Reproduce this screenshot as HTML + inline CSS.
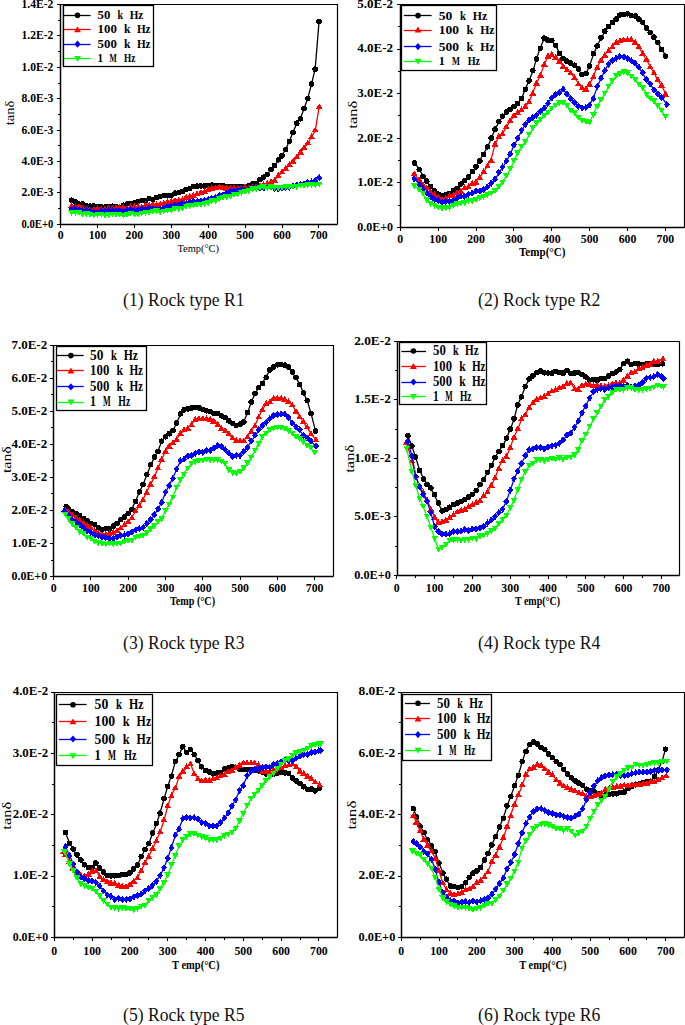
<!DOCTYPE html>
<html><head><meta charset="utf-8"><style>
html,body{margin:0;padding:0;background:#fff;}
body{width:685px;height:1025px;overflow:hidden;}
svg{display:block;}
text{font-family:"Liberation Serif",serif;}
.tl{font-weight:bold;font-size:12px;fill:#000;}
.xl{font-family:"Liberation Serif",serif;fill:#000;font-weight:bold;}
.yl{font-size:12.5px;fill:#000;}
.lg{font-weight:bold;fill:#000;}
.cap{font-size:18.2px;fill:#111;}
</style></head><body>
<svg width="685" height="1025" viewBox="0 0 685 1025">
<rect width="685" height="1025" fill="#fff"/>
<clipPath id="c1"><rect x="60.6" y="4.5" width="276.7" height="219.9"/></clipPath>
<g clip-path="url(#c1)">
<polyline points="71.6,200.5 75.4,202.6 79.0,203.7 82.7,204.8 86.4,205.9 90.1,206.3 93.8,206.7 97.5,207.1 101.2,207.4 104.9,207.2 108.6,207.1 112.3,207.0 116.0,206.8 119.6,206.7 123.3,205.9 127.0,204.5 130.7,203.2 134.4,202.3 138.1,201.6 141.8,200.8 145.5,200.1 149.2,199.4 152.8,198.6 156.5,197.9 160.2,197.1 163.9,196.4 167.6,195.7 171.3,194.9 175.0,193.8 178.7,192.5 182.4,191.2 186.1,189.9 189.8,188.7 193.4,187.5 197.1,186.9 200.8,186.4 204.5,185.8 208.2,185.4 211.9,185.5 215.6,185.6 219.3,185.7 223.0,185.9 226.7,186.2 230.3,186.5 234.0,186.8 237.7,186.7 241.4,186.4 245.1,186.1 248.8,185.5 252.5,184.2 256.2,182.8 259.9,180.1 263.6,177.3 267.2,173.9 270.9,170.1 274.6,165.4 278.3,160.6 282.0,155.5 285.7,149.0 289.4,141.2 293.1,131.8 296.8,123.5 300.4,118.5 304.1,108.5 307.8,98.2 311.5,84.2 315.2,68.6 319.1,20.9" fill="none" stroke="#000000" stroke-width="1.3" stroke-linejoin="round"/>
<g fill="#000000" shape-rendering="crispEdges"><circle cx="71.6" cy="200.2" r="2.80"/><circle cx="75.4" cy="202.0" r="2.80"/><circle cx="79.0" cy="204.0" r="2.80"/><circle cx="82.7" cy="204.1" r="2.80"/><circle cx="86.4" cy="206.0" r="2.80"/><circle cx="90.1" cy="206.1" r="2.80"/><circle cx="93.8" cy="205.9" r="2.80"/><circle cx="97.5" cy="207.1" r="2.80"/><circle cx="101.2" cy="206.6" r="2.80"/><circle cx="104.9" cy="207.1" r="2.80"/><circle cx="108.6" cy="206.3" r="2.80"/><circle cx="112.3" cy="206.2" r="2.80"/><circle cx="116.0" cy="206.7" r="2.80"/><circle cx="119.6" cy="207.3" r="2.80"/><circle cx="123.3" cy="205.2" r="2.80"/><circle cx="127.0" cy="204.0" r="2.80"/><circle cx="130.7" cy="203.4" r="2.80"/><circle cx="134.4" cy="203.1" r="2.80"/><circle cx="138.1" cy="201.7" r="2.80"/><circle cx="141.8" cy="200.7" r="2.80"/><circle cx="145.5" cy="201.0" r="2.80"/><circle cx="149.2" cy="198.6" r="2.80"/><circle cx="152.8" cy="199.3" r="2.80"/><circle cx="156.5" cy="197.5" r="2.80"/><circle cx="160.2" cy="196.5" r="2.80"/><circle cx="163.9" cy="195.7" r="2.80"/><circle cx="167.6" cy="195.3" r="2.80"/><circle cx="171.3" cy="195.5" r="2.80"/><circle cx="175.0" cy="193.2" r="2.80"/><circle cx="178.7" cy="192.7" r="2.80"/><circle cx="182.4" cy="191.5" r="2.80"/><circle cx="186.1" cy="189.7" r="2.80"/><circle cx="189.8" cy="188.7" r="2.80"/><circle cx="193.4" cy="186.7" r="2.80"/><circle cx="197.1" cy="186.2" r="2.80"/><circle cx="200.8" cy="185.9" r="2.80"/><circle cx="204.5" cy="186.1" r="2.80"/><circle cx="208.2" cy="185.3" r="2.80"/><circle cx="211.9" cy="185.2" r="2.80"/><circle cx="215.6" cy="185.8" r="2.80"/><circle cx="219.3" cy="185.7" r="2.80"/><circle cx="223.0" cy="185.5" r="2.80"/><circle cx="226.7" cy="186.7" r="2.80"/><circle cx="230.3" cy="186.8" r="2.80"/><circle cx="234.0" cy="186.3" r="2.80"/><circle cx="237.7" cy="186.9" r="2.80"/><circle cx="241.4" cy="186.4" r="2.80"/><circle cx="245.1" cy="186.7" r="2.80"/><circle cx="248.8" cy="186.0" r="2.80"/><circle cx="252.5" cy="183.8" r="2.80"/><circle cx="256.2" cy="183.7" r="2.80"/><circle cx="259.9" cy="179.4" r="2.80"/><circle cx="263.6" cy="177.2" r="2.80"/><circle cx="267.2" cy="174.3" r="2.80"/><circle cx="270.9" cy="169.5" r="2.80"/><circle cx="274.6" cy="165.3" r="2.80"/><circle cx="278.3" cy="159.8" r="2.80"/><circle cx="282.0" cy="155.8" r="2.80"/><circle cx="285.7" cy="149.5" r="2.80"/><circle cx="289.4" cy="141.3" r="2.80"/><circle cx="293.1" cy="132.5" r="2.80"/><circle cx="296.8" cy="123.2" r="2.80"/><circle cx="300.4" cy="118.8" r="2.80"/><circle cx="304.1" cy="108.7" r="2.80"/><circle cx="307.8" cy="98.4" r="2.80"/><circle cx="311.5" cy="84.1" r="2.80"/><circle cx="315.2" cy="69.2" r="2.80"/><circle cx="319.1" cy="21.7" r="2.80"/></g>
<polyline points="71.6,205.4 75.4,206.2 79.0,207.0 82.7,207.8 86.4,208.6 90.1,208.7 93.8,208.8 97.5,208.9 101.2,209.0 104.9,208.8 108.6,208.7 112.3,208.6 116.0,208.4 119.6,208.3 123.3,208.0 127.0,207.6 130.7,207.2 134.4,206.8 138.1,206.4 141.8,206.0 145.5,205.4 149.2,204.9 152.8,204.3 156.5,203.8 160.2,203.2 163.9,202.6 167.6,201.8 171.3,201.1 175.0,200.3 178.7,199.6 182.4,198.8 186.1,197.7 189.8,196.6 193.4,195.5 197.1,194.1 200.8,192.6 204.5,191.1 208.2,189.8 211.9,188.8 215.6,187.9 219.3,187.0 223.0,187.1 226.7,187.3 230.3,187.5 234.0,187.8 237.7,187.8 241.4,187.7 245.1,187.6 248.8,187.4 252.5,186.7 256.2,186.0 259.9,185.3 263.6,184.5 267.2,183.3 270.9,182.2 274.6,179.8 278.3,176.1 282.0,172.4 285.7,168.7 289.4,165.0 293.1,161.3 296.8,157.6 300.4,152.8 304.1,148.0 307.8,143.6 311.5,136.7 315.2,130.8 319.3,106.1" fill="none" stroke="#ff0000" stroke-width="1.3" stroke-linejoin="round"/>
<g fill="#ff0000" shape-rendering="crispEdges"><path d="M71.6 202.0L75.0 207.9L68.2 207.9Z"/><path d="M75.4 203.1L78.8 209.0L72.0 209.0Z"/><path d="M79.0 202.8L82.5 208.7L75.6 208.7Z"/><path d="M82.7 204.7L86.1 210.7L79.3 210.7Z"/><path d="M86.4 205.4L89.8 211.4L83.0 211.4Z"/><path d="M90.1 206.2L93.5 212.1L86.7 212.1Z"/><path d="M93.8 206.0L97.2 211.9L90.4 211.9Z"/><path d="M97.5 205.1L100.9 211.1L94.1 211.1Z"/><path d="M101.2 205.4L104.6 211.3L97.8 211.3Z"/><path d="M104.9 205.7L108.3 211.7L101.5 211.7Z"/><path d="M108.6 204.4L112.0 210.4L105.2 210.4Z"/><path d="M112.3 205.1L115.7 211.0L108.9 211.0Z"/><path d="M116.0 204.4L119.4 210.4L112.5 210.4Z"/><path d="M119.6 204.2L123.0 210.1L116.2 210.1Z"/><path d="M123.3 203.8L126.7 209.7L119.9 209.7Z"/><path d="M127.0 204.7L130.4 210.6L123.6 210.6Z"/><path d="M130.7 203.1L134.1 209.1L127.3 209.1Z"/><path d="M134.4 202.9L137.8 208.9L131.0 208.9Z"/><path d="M138.1 202.8L141.5 208.7L134.7 208.7Z"/><path d="M141.8 203.3L145.2 209.2L138.4 209.2Z"/><path d="M145.5 201.3L148.9 207.2L142.1 207.2Z"/><path d="M149.2 201.4L152.6 207.3L145.8 207.3Z"/><path d="M152.8 201.0L156.2 207.0L149.4 207.0Z"/><path d="M156.5 201.0L159.9 207.0L153.1 207.0Z"/><path d="M160.2 200.4L163.6 206.3L156.8 206.3Z"/><path d="M163.9 199.8L167.3 205.8L160.5 205.8Z"/><path d="M167.6 198.0L171.0 204.0L164.2 204.0Z"/><path d="M171.3 197.5L174.7 203.5L167.9 203.5Z"/><path d="M175.0 196.7L178.4 202.6L171.6 202.6Z"/><path d="M178.7 196.9L182.1 202.8L175.3 202.8Z"/><path d="M182.4 196.3L185.8 202.2L179.0 202.2Z"/><path d="M186.1 193.7L189.5 199.7L182.7 199.7Z"/><path d="M189.8 192.6L193.2 198.6L186.3 198.6Z"/><path d="M193.4 191.6L196.8 197.5L190.0 197.5Z"/><path d="M197.1 190.3L200.5 196.2L193.7 196.2Z"/><path d="M200.8 189.2L204.2 195.2L197.4 195.2Z"/><path d="M204.5 187.9L207.9 193.8L201.1 193.8Z"/><path d="M208.2 185.9L211.6 191.9L204.8 191.9Z"/><path d="M211.9 184.5L215.3 190.5L208.5 190.5Z"/><path d="M215.6 184.4L219.0 190.3L212.2 190.3Z"/><path d="M219.3 183.3L222.7 189.3L215.9 189.3Z"/><path d="M223.0 183.8L226.4 189.8L219.6 189.8Z"/><path d="M226.7 184.7L230.1 190.7L223.2 190.7Z"/><path d="M230.3 184.5L233.7 190.4L226.9 190.4Z"/><path d="M234.0 184.4L237.4 190.4L230.6 190.4Z"/><path d="M237.7 184.7L241.1 190.6L234.3 190.6Z"/><path d="M241.4 184.6L244.8 190.6L238.0 190.6Z"/><path d="M245.1 183.4L248.5 189.3L241.7 189.3Z"/><path d="M248.8 184.7L252.2 190.6L245.4 190.6Z"/><path d="M252.5 183.8L255.9 189.7L249.1 189.7Z"/><path d="M256.2 183.3L259.6 189.2L252.8 189.2Z"/><path d="M259.9 182.4L263.3 188.4L256.5 188.4Z"/><path d="M263.6 180.9L266.9 186.8L260.2 186.8Z"/><path d="M267.2 179.8L270.6 185.7L263.8 185.7Z"/><path d="M270.9 178.1L274.3 184.1L267.5 184.1Z"/><path d="M274.6 176.6L278.0 182.6L271.2 182.6Z"/><path d="M278.3 171.9L281.7 177.9L274.9 177.9Z"/><path d="M282.0 168.2L285.4 174.2L278.6 174.2Z"/><path d="M285.7 164.8L289.1 170.7L282.3 170.7Z"/><path d="M289.4 161.0L292.8 167.0L286.0 167.0Z"/><path d="M293.1 157.6L296.5 163.6L289.7 163.6Z"/><path d="M296.8 153.4L300.2 159.4L293.4 159.4Z"/><path d="M300.4 148.5L303.8 154.5L297.1 154.5Z"/><path d="M304.1 144.0L307.5 149.9L300.7 149.9Z"/><path d="M307.8 139.5L311.2 145.4L304.4 145.4Z"/><path d="M311.5 133.0L314.9 139.0L308.1 139.0Z"/><path d="M315.2 126.5L318.6 132.4L311.8 132.4Z"/><path d="M319.3 103.4L322.7 109.3L315.9 109.3Z"/></g>
<polyline points="71.6,209.0 75.4,209.5 79.0,210.0 82.7,210.6 86.4,211.1 90.1,211.1 93.8,211.1 97.5,211.1 101.2,211.1 104.9,211.1 108.6,211.1 112.3,211.1 116.0,211.1 119.6,211.1 123.3,210.9 127.0,210.7 130.7,210.4 134.4,210.1 138.1,209.8 141.8,209.5 145.5,209.3 149.2,209.0 152.8,208.7 156.5,208.4 160.2,208.1 163.9,207.6 167.6,206.9 171.3,206.1 175.0,205.3 178.7,204.6 182.4,203.8 186.1,203.1 189.8,202.3 193.4,201.5 197.1,200.8 200.8,200.2 204.5,199.6 208.2,198.8 211.9,197.8 215.6,196.7 219.3,195.7 223.0,194.6 226.7,193.6 230.3,192.5 234.0,191.4 237.7,190.6 241.4,190.0 245.1,189.4 248.8,188.8 252.5,188.2 256.2,187.6 259.9,187.0 263.6,187.2 267.2,187.5 270.9,187.8 274.6,188.9 278.3,189.4 282.0,188.4 285.7,187.3 289.4,186.4 293.1,185.7 296.8,184.9 300.4,184.3 304.1,183.7 307.8,183.1 311.5,181.7 315.2,179.9 319.3,177.3" fill="none" stroke="#0000ff" stroke-width="1.3" stroke-linejoin="round"/>
<g fill="#0000ff" shape-rendering="crispEdges"><path d="M71.6 205.6L74.7 209.2L71.6 212.8L68.5 209.2Z"/><path d="M75.4 205.3L78.4 208.9L75.4 212.5L72.3 208.9Z"/><path d="M79.0 206.0L82.1 209.6L79.0 213.2L76.0 209.6Z"/><path d="M82.7 206.7L85.8 210.3L82.7 213.9L79.7 210.3Z"/><path d="M86.4 207.2L89.5 210.8L86.4 214.4L83.4 210.8Z"/><path d="M90.1 206.8L93.2 210.4L90.1 214.0L87.1 210.4Z"/><path d="M93.8 208.1L96.9 211.7L93.8 215.3L90.8 211.7Z"/><path d="M97.5 208.4L100.6 212.0L97.5 215.6L94.4 212.0Z"/><path d="M101.2 207.4L104.2 211.0L101.2 214.6L98.1 211.0Z"/><path d="M104.9 207.5L107.9 211.1L104.9 214.7L101.8 211.1Z"/><path d="M108.6 206.8L111.6 210.4L108.6 214.0L105.5 210.4Z"/><path d="M112.3 206.8L115.3 210.4L112.3 214.0L109.2 210.4Z"/><path d="M116.0 207.2L119.0 210.8L116.0 214.4L112.9 210.8Z"/><path d="M119.6 207.1L122.7 210.7L119.6 214.3L116.6 210.7Z"/><path d="M123.3 207.9L126.4 211.5L123.3 215.1L120.3 211.5Z"/><path d="M127.0 206.5L130.1 210.1L127.0 213.7L124.0 210.1Z"/><path d="M130.7 205.9L133.8 209.5L130.7 213.1L127.7 209.5Z"/><path d="M134.4 207.3L137.5 210.9L134.4 214.5L131.3 210.9Z"/><path d="M138.1 206.3L141.2 209.9L138.1 213.5L135.0 209.9Z"/><path d="M141.8 205.3L144.8 208.9L141.8 212.5L138.7 208.9Z"/><path d="M145.5 205.7L148.5 209.3L145.5 212.9L142.4 209.3Z"/><path d="M149.2 204.5L152.2 208.1L149.2 211.7L146.1 208.1Z"/><path d="M152.8 205.2L155.9 208.8L152.8 212.4L149.8 208.8Z"/><path d="M156.5 205.7L159.6 209.3L156.5 212.9L153.5 209.3Z"/><path d="M160.2 205.2L163.3 208.8L160.2 212.4L157.2 208.8Z"/><path d="M163.9 204.4L167.0 208.0L163.9 211.6L160.9 208.0Z"/><path d="M167.6 202.8L170.7 206.4L167.6 210.0L164.6 206.4Z"/><path d="M171.3 202.3L174.4 205.9L171.3 209.5L168.2 205.9Z"/><path d="M175.0 201.1L178.1 204.7L175.0 208.3L171.9 204.7Z"/><path d="M178.7 201.5L181.7 205.1L178.7 208.7L175.6 205.1Z"/><path d="M182.4 200.3L185.4 203.9L182.4 207.5L179.3 203.9Z"/><path d="M186.1 200.0L189.1 203.6L186.1 207.2L183.0 203.6Z"/><path d="M189.8 198.4L192.8 202.0L189.8 205.6L186.7 202.0Z"/><path d="M193.4 197.4L196.5 201.0L193.4 204.6L190.4 201.0Z"/><path d="M197.1 197.8L200.2 201.4L197.1 205.0L194.1 201.4Z"/><path d="M200.8 197.5L203.9 201.1L200.8 204.7L197.8 201.1Z"/><path d="M204.5 196.6L207.6 200.2L204.5 203.8L201.4 200.2Z"/><path d="M208.2 195.8L211.3 199.4L208.2 203.0L205.1 199.4Z"/><path d="M211.9 194.8L214.9 198.4L211.9 202.0L208.8 198.4Z"/><path d="M215.6 193.6L218.6 197.2L215.6 200.8L212.5 197.2Z"/><path d="M219.3 191.6L222.3 195.2L219.3 198.8L216.2 195.2Z"/><path d="M223.0 191.0L226.0 194.6L223.0 198.2L219.9 194.6Z"/><path d="M226.7 189.7L229.7 193.3L226.7 196.9L223.6 193.3Z"/><path d="M230.3 188.0L233.4 191.6L230.3 195.2L227.3 191.6Z"/><path d="M234.0 187.0L237.1 190.6L234.0 194.2L231.0 190.6Z"/><path d="M237.7 186.6L240.8 190.2L237.7 193.8L234.7 190.2Z"/><path d="M241.4 186.0L244.5 189.6L241.4 193.2L238.3 189.6Z"/><path d="M245.1 186.1L248.2 189.7L245.1 193.3L242.0 189.7Z"/><path d="M248.8 186.0L251.8 189.6L248.8 193.2L245.7 189.6Z"/><path d="M252.5 184.5L255.5 188.1L252.5 191.7L249.4 188.1Z"/><path d="M256.2 184.8L259.2 188.4L256.2 192.0L253.1 188.4Z"/><path d="M259.9 184.3L262.9 187.9L259.9 191.5L256.8 187.9Z"/><path d="M263.6 184.4L266.6 188.0L263.6 191.6L260.5 188.0Z"/><path d="M267.2 183.6L270.3 187.2L267.2 190.8L264.2 187.2Z"/><path d="M270.9 183.7L274.0 187.3L270.9 190.9L267.9 187.3Z"/><path d="M274.6 184.8L277.7 188.4L274.6 192.0L271.6 188.4Z"/><path d="M278.3 185.3L281.4 188.9L278.3 192.5L275.2 188.9Z"/><path d="M282.0 184.2L285.1 187.8L282.0 191.4L278.9 187.8Z"/><path d="M285.7 183.9L288.8 187.5L285.7 191.1L282.6 187.5Z"/><path d="M289.4 183.5L292.4 187.1L289.4 190.7L286.3 187.1Z"/><path d="M293.1 182.7L296.1 186.3L293.1 189.9L290.0 186.3Z"/><path d="M296.8 181.3L299.8 184.9L296.8 188.5L293.7 184.9Z"/><path d="M300.4 180.9L303.5 184.5L300.4 188.1L297.4 184.5Z"/><path d="M304.1 180.6L307.2 184.2L304.1 187.8L301.1 184.2Z"/><path d="M307.8 178.7L310.9 182.3L307.8 185.9L304.8 182.3Z"/><path d="M311.5 178.4L314.6 182.0L311.5 185.6L308.5 182.0Z"/><path d="M315.2 177.0L318.3 180.6L315.2 184.2L312.1 180.6Z"/><path d="M319.3 174.2L322.4 177.8L319.3 181.4L316.2 177.8Z"/></g>
<polyline points="71.6,212.1 75.4,212.6 79.0,213.1 82.7,213.7 86.4,214.2 90.1,214.3 93.8,214.3 97.5,214.4 101.2,214.5 104.9,214.5 108.6,214.6 112.3,214.6 116.0,214.7 119.6,214.8 123.3,214.6 127.0,214.3 130.7,213.9 134.4,213.6 138.1,213.3 141.8,212.9 145.5,212.6 149.2,212.3 152.8,211.9 156.5,211.6 160.2,211.3 163.9,210.8 167.6,210.1 171.3,209.5 175.0,208.8 178.7,208.2 182.4,207.5 186.1,206.9 189.8,206.2 193.4,205.6 197.1,204.9 200.8,204.3 204.5,203.7 208.2,202.9 211.9,201.6 215.6,200.2 219.3,198.9 223.0,197.7 226.7,196.7 230.3,195.6 234.0,194.5 237.7,193.5 241.4,192.6 245.1,191.7 248.8,190.7 252.5,189.8 256.2,188.9 259.9,188.0 263.6,187.8 267.2,187.7 270.9,187.6 274.6,187.4 278.3,187.3 282.0,187.1 285.7,187.0 289.4,186.7 293.1,186.4 296.8,186.1 300.4,185.9 304.1,185.5 307.8,185.2 311.5,184.9 315.2,184.6 319.3,184.2" fill="none" stroke="#00ff00" stroke-width="1.3" stroke-linejoin="round"/>
<g fill="#00ff00" shape-rendering="crispEdges"><path d="M71.6 216.0L75.0 210.0L68.2 210.0Z"/><path d="M75.4 216.0L78.8 210.0L72.0 210.0Z"/><path d="M79.0 216.0L82.5 210.0L75.6 210.0Z"/><path d="M82.7 217.6L86.1 211.6L79.3 211.6Z"/><path d="M86.4 217.3L89.8 211.3L83.0 211.3Z"/><path d="M90.1 218.2L93.5 212.3L86.7 212.3Z"/><path d="M93.8 218.6L97.2 212.6L90.4 212.6Z"/><path d="M97.5 217.6L100.9 211.7L94.1 211.7Z"/><path d="M101.2 217.7L104.6 211.7L97.8 211.7Z"/><path d="M104.9 218.7L108.3 212.8L101.5 212.8Z"/><path d="M108.6 218.4L112.0 212.4L105.2 212.4Z"/><path d="M112.3 217.4L115.7 211.5L108.9 211.5Z"/><path d="M116.0 217.4L119.4 211.5L112.5 211.5Z"/><path d="M119.6 217.5L123.0 211.6L116.2 211.6Z"/><path d="M123.3 218.7L126.7 212.8L119.9 212.8Z"/><path d="M127.0 218.2L130.4 212.3L123.6 212.3Z"/><path d="M130.7 216.7L134.1 210.8L127.3 210.8Z"/><path d="M134.4 217.6L137.8 211.7L131.0 211.7Z"/><path d="M138.1 217.5L141.5 211.6L134.7 211.6Z"/><path d="M141.8 216.6L145.2 210.7L138.4 210.7Z"/><path d="M145.5 215.7L148.9 209.8L142.1 209.8Z"/><path d="M149.2 215.8L152.6 209.8L145.8 209.8Z"/><path d="M152.8 214.7L156.2 208.7L149.4 208.7Z"/><path d="M156.5 214.1L159.9 208.2L153.1 208.2Z"/><path d="M160.2 215.5L163.6 209.6L156.8 209.6Z"/><path d="M163.9 214.5L167.3 208.5L160.5 208.5Z"/><path d="M167.6 213.6L171.0 207.6L164.2 207.6Z"/><path d="M171.3 213.7L174.7 207.7L167.9 207.7Z"/><path d="M175.0 212.1L178.4 206.2L171.6 206.2Z"/><path d="M178.7 212.3L182.1 206.3L175.3 206.3Z"/><path d="M182.4 211.5L185.8 205.6L179.0 205.6Z"/><path d="M186.1 209.8L189.5 203.8L182.7 203.8Z"/><path d="M189.8 209.2L193.2 203.2L186.3 203.2Z"/><path d="M193.4 208.6L196.8 202.7L190.0 202.7Z"/><path d="M197.1 207.9L200.5 201.9L193.7 201.9Z"/><path d="M200.8 207.9L204.2 201.9L197.4 201.9Z"/><path d="M204.5 206.6L207.9 200.7L201.1 200.7Z"/><path d="M208.2 206.1L211.6 200.2L204.8 200.2Z"/><path d="M211.9 204.3L215.3 198.3L208.5 198.3Z"/><path d="M215.6 204.4L219.0 198.4L212.2 198.4Z"/><path d="M219.3 202.1L222.7 196.1L215.9 196.1Z"/><path d="M223.0 201.0L226.4 195.1L219.6 195.1Z"/><path d="M226.7 200.2L230.1 194.3L223.2 194.3Z"/><path d="M230.3 199.7L233.7 193.8L226.9 193.8Z"/><path d="M234.0 197.8L237.4 191.8L230.6 191.8Z"/><path d="M237.7 197.7L241.1 191.7L234.3 191.7Z"/><path d="M241.4 196.0L244.8 190.1L238.0 190.1Z"/><path d="M245.1 195.1L248.5 189.2L241.7 189.2Z"/><path d="M248.8 194.2L252.2 188.2L245.4 188.2Z"/><path d="M252.5 192.4L255.9 186.4L249.1 186.4Z"/><path d="M256.2 192.2L259.6 186.3L252.8 186.3Z"/><path d="M259.9 190.9L263.3 184.9L256.5 184.9Z"/><path d="M263.6 190.3L266.9 184.4L260.2 184.4Z"/><path d="M267.2 191.6L270.6 185.7L263.8 185.7Z"/><path d="M270.9 190.4L274.3 184.4L267.5 184.4Z"/><path d="M274.6 190.8L278.0 184.8L271.2 184.8Z"/><path d="M278.3 191.1L281.7 185.1L274.9 185.1Z"/><path d="M282.0 190.6L285.4 184.7L278.6 184.7Z"/><path d="M285.7 190.0L289.1 184.1L282.3 184.1Z"/><path d="M289.4 190.1L292.8 184.2L286.0 184.2Z"/><path d="M293.1 189.9L296.5 184.0L289.7 184.0Z"/><path d="M296.8 190.1L300.2 184.1L293.4 184.1Z"/><path d="M300.4 188.6L303.8 182.6L297.1 182.6Z"/><path d="M304.1 189.1L307.5 183.1L300.7 183.1Z"/><path d="M307.8 188.2L311.2 182.2L304.4 182.2Z"/><path d="M311.5 187.9L314.9 181.9L308.1 181.9Z"/><path d="M315.2 188.5L318.6 182.5L311.8 182.5Z"/><path d="M319.3 187.6L322.7 181.7L315.9 181.7Z"/></g>
</g>
<path d="M60.5 4.5H337.5V224.5" fill="none" stroke="#000" stroke-width="1.2"/>
<path d="M60.5 4.0V224.5H337.5" fill="none" stroke="#000" stroke-width="1.5"/>
<path d="M57.0 224.5H60.5 M58.0 208.5H60.5 M57.0 192.5H60.5 M58.0 177.5H60.5 M57.0 161.5H60.5 M58.0 145.5H60.5 M57.0 130.5H60.5 M58.0 114.5H60.5 M57.0 98.5H60.5 M58.0 83.5H60.5 M57.0 67.5H60.5 M58.0 51.5H60.5 M57.0 35.5H60.5 M58.0 20.5H60.5 M57.0 4.5H60.5 M60.5 224.5V228.0 M97.5 224.5V228.0 M134.5 224.5V228.0 M171.5 224.5V228.0 M208.5 224.5V228.0 M245.5 224.5V228.0 M282.5 224.5V228.0 M318.5 224.5V228.0" stroke="#000" stroke-width="1.1" fill="none"/>
<text x="21.5" y="227.7" textLength="31.9" lengthAdjust="spacingAndGlyphs" class="tl">0.0E+0</text>
<text x="21.5" y="196.3" textLength="31.9" lengthAdjust="spacingAndGlyphs" class="tl">2.0E-3</text>
<text x="21.5" y="164.9" textLength="31.9" lengthAdjust="spacingAndGlyphs" class="tl">4.0E-3</text>
<text x="21.5" y="133.5" textLength="31.9" lengthAdjust="spacingAndGlyphs" class="tl">6.0E-3</text>
<text x="21.5" y="102.0" textLength="31.9" lengthAdjust="spacingAndGlyphs" class="tl">8.0E-3</text>
<text x="21.5" y="70.6" textLength="31.9" lengthAdjust="spacingAndGlyphs" class="tl">1.0E-2</text>
<text x="21.5" y="39.2" textLength="31.9" lengthAdjust="spacingAndGlyphs" class="tl">1.2E-2</text>
<text x="21.5" y="7.8" textLength="31.9" lengthAdjust="spacingAndGlyphs" class="tl">1.4E-2</text>
<text x="60.6" y="239.3" text-anchor="middle" class="tl" textLength="5.9" lengthAdjust="spacingAndGlyphs">0</text>
<text x="97.5" y="239.3" text-anchor="middle" class="tl" textLength="17.7" lengthAdjust="spacingAndGlyphs">100</text>
<text x="134.4" y="239.3" text-anchor="middle" class="tl" textLength="17.7" lengthAdjust="spacingAndGlyphs">200</text>
<text x="171.3" y="239.3" text-anchor="middle" class="tl" textLength="17.7" lengthAdjust="spacingAndGlyphs">300</text>
<text x="208.2" y="239.3" text-anchor="middle" class="tl" textLength="17.7" lengthAdjust="spacingAndGlyphs">400</text>
<text x="245.1" y="239.3" text-anchor="middle" class="tl" textLength="17.7" lengthAdjust="spacingAndGlyphs">500</text>
<text x="282.0" y="239.3" text-anchor="middle" class="tl" textLength="17.7" lengthAdjust="spacingAndGlyphs">600</text>
<text x="318.9" y="239.3" text-anchor="middle" class="tl" textLength="17.7" lengthAdjust="spacingAndGlyphs">700</text>
<text x="177.5" y="251.6" textLength="41.5" lengthAdjust="spacingAndGlyphs" class="xl" style="font-size:9.5px;font-weight:normal">Temp(°C)</text>
<text transform="translate(14.0,113.0) rotate(-90)" text-anchor="middle" class="yl" textLength="24.5" lengthAdjust="spacingAndGlyphs">tanδ</text>
<rect x="61" y="5.5" width="2" height="61.0" fill="#c8c8c8"/>
<rect x="63.5" y="5.5" width="90.0" height="61.0" fill="#fff" stroke="#000" stroke-width="1.3"/>
<path d="M63.8 15.5H90.6" stroke="#000000" stroke-width="1.3"/>
<g fill="#000000"><circle cx="77.5" cy="15.3" r="2.80"/></g>
<text x="97.6" y="18.9" textLength="12.8" lengthAdjust="spacingAndGlyphs" class="lg" style="font-size:11.55px">50</text>
<text x="117.6" y="18.9" textLength="5.6" lengthAdjust="spacingAndGlyphs" class="lg" style="font-size:11.55px">k</text>
<text x="129.7" y="18.9" textLength="13.6" lengthAdjust="spacingAndGlyphs" class="lg" style="font-size:11.55px">Hz</text>
<path d="M63.8 29.5H90.6" stroke="#ff0000" stroke-width="1.3"/>
<g fill="#ff0000"><path d="M77.5 26.3L80.9 32.2L74.1 32.2Z"/></g>
<text x="97.6" y="33.3" textLength="19.2" lengthAdjust="spacingAndGlyphs" class="lg" style="font-size:11.55px">100</text>
<text x="124.0" y="33.3" textLength="6.5" lengthAdjust="spacingAndGlyphs" class="lg" style="font-size:11.55px">k</text>
<text x="136.9" y="33.3" textLength="13.7" lengthAdjust="spacingAndGlyphs" class="lg" style="font-size:11.55px">Hz</text>
<path d="M63.8 44.5H90.6" stroke="#0000ff" stroke-width="1.3"/>
<g fill="#0000ff"><path d="M77.5 40.6L80.6 44.2L77.5 47.8L74.4 44.2Z"/></g>
<text x="97.6" y="47.8" textLength="19.2" lengthAdjust="spacingAndGlyphs" class="lg" style="font-size:11.55px">500</text>
<text x="124.0" y="47.8" textLength="6.5" lengthAdjust="spacingAndGlyphs" class="lg" style="font-size:11.55px">k</text>
<text x="136.9" y="47.8" textLength="13.7" lengthAdjust="spacingAndGlyphs" class="lg" style="font-size:11.55px">Hz</text>
<path d="M63.8 58.5H90.6" stroke="#00ff00" stroke-width="1.3"/>
<g fill="#00ff00"><path d="M77.5 62.0L80.9 56.1L74.1 56.1Z"/></g>
<text x="97.6" y="62.2" textLength="5.6" lengthAdjust="spacingAndGlyphs" class="lg" style="font-size:11.55px">1</text>
<text x="109.6" y="62.2" textLength="7.2" lengthAdjust="spacingAndGlyphs" class="lg" style="font-size:11.55px">M</text>
<text x="124.0" y="62.2" textLength="11.3" lengthAdjust="spacingAndGlyphs" class="lg" style="font-size:11.55px">Hz</text>
<text x="123.1" y="305.5" textLength="121.4" lengthAdjust="spacingAndGlyphs" class="cap">(1) Rock type R1</text>
<clipPath id="c2"><rect x="400.5" y="4.4" width="283.6" height="223.1"/></clipPath>
<g clip-path="url(#c2)">
<polyline points="414.7,162.9 419.2,169.3 423.0,175.7 426.8,181.3 430.6,186.3 434.4,190.7 438.2,194.0 442.0,195.3 445.7,194.7 449.5,193.2 453.3,190.3 457.1,187.5 460.9,183.8 464.7,180.0 468.5,176.2 472.3,172.1 476.0,166.8 479.8,160.2 483.6,153.7 487.4,147.4 491.2,138.7 495.0,129.3 498.8,122.4 502.5,116.7 506.3,112.9 510.1,109.4 513.9,106.1 517.7,102.7 521.5,99.0 525.3,89.0 529.1,80.5 532.8,71.4 536.6,58.4 540.4,47.5 544.2,38.7 548.0,39.4 551.8,40.9 555.6,45.4 559.4,52.7 563.1,57.8 566.9,61.6 570.7,63.2 574.5,65.2 578.3,69.4 582.1,75.1 585.9,74.0 589.6,65.6 593.4,54.6 597.2,45.8 601.0,38.0 604.8,32.1 608.6,26.8 612.4,22.4 616.2,18.9 619.9,15.9 623.7,13.6 627.5,13.2 631.3,14.6 635.1,16.7 638.9,19.4 642.7,23.2 646.5,27.5 650.2,32.7 654.0,37.8 657.8,42.8 661.6,48.8 665.5,55.6" fill="none" stroke="#000000" stroke-width="1.3" stroke-linejoin="round"/>
<g fill="#000000" shape-rendering="crispEdges"><circle cx="414.7" cy="163.0" r="2.80"/><circle cx="419.2" cy="169.7" r="2.80"/><circle cx="423.0" cy="176.4" r="2.80"/><circle cx="426.8" cy="181.2" r="2.80"/><circle cx="430.6" cy="186.5" r="2.80"/><circle cx="434.4" cy="190.8" r="2.80"/><circle cx="438.2" cy="194.1" r="2.80"/><circle cx="442.0" cy="195.6" r="2.80"/><circle cx="445.7" cy="194.6" r="2.80"/><circle cx="449.5" cy="193.3" r="2.80"/><circle cx="453.3" cy="190.3" r="2.80"/><circle cx="457.1" cy="188.3" r="2.80"/><circle cx="460.9" cy="184.1" r="2.80"/><circle cx="464.7" cy="180.7" r="2.80"/><circle cx="468.5" cy="177.0" r="2.80"/><circle cx="472.3" cy="171.6" r="2.80"/><circle cx="476.0" cy="166.9" r="2.80"/><circle cx="479.8" cy="161.0" r="2.80"/><circle cx="483.6" cy="154.3" r="2.80"/><circle cx="487.4" cy="146.8" r="2.80"/><circle cx="491.2" cy="138.0" r="2.80"/><circle cx="495.0" cy="129.2" r="2.80"/><circle cx="498.8" cy="121.6" r="2.80"/><circle cx="502.5" cy="116.2" r="2.80"/><circle cx="506.3" cy="112.1" r="2.80"/><circle cx="510.1" cy="109.7" r="2.80"/><circle cx="513.9" cy="106.6" r="2.80"/><circle cx="517.7" cy="103.4" r="2.80"/><circle cx="521.5" cy="98.4" r="2.80"/><circle cx="525.3" cy="89.4" r="2.80"/><circle cx="529.1" cy="80.8" r="2.80"/><circle cx="532.8" cy="70.7" r="2.80"/><circle cx="536.6" cy="59.1" r="2.80"/><circle cx="540.4" cy="48.4" r="2.80"/><circle cx="544.2" cy="38.2" r="2.80"/><circle cx="548.0" cy="40.2" r="2.80"/><circle cx="551.8" cy="40.7" r="2.80"/><circle cx="555.6" cy="45.4" r="2.80"/><circle cx="559.4" cy="53.5" r="2.80"/><circle cx="563.1" cy="58.4" r="2.80"/><circle cx="566.9" cy="61.0" r="2.80"/><circle cx="570.7" cy="63.0" r="2.80"/><circle cx="574.5" cy="65.2" r="2.80"/><circle cx="578.3" cy="69.1" r="2.80"/><circle cx="582.1" cy="74.5" r="2.80"/><circle cx="585.9" cy="73.7" r="2.80"/><circle cx="589.6" cy="66.0" r="2.80"/><circle cx="593.4" cy="53.7" r="2.80"/><circle cx="597.2" cy="45.9" r="2.80"/><circle cx="601.0" cy="37.9" r="2.80"/><circle cx="604.8" cy="31.2" r="2.80"/><circle cx="608.6" cy="26.5" r="2.80"/><circle cx="612.4" cy="22.6" r="2.80"/><circle cx="616.2" cy="19.0" r="2.80"/><circle cx="619.9" cy="15.1" r="2.80"/><circle cx="623.7" cy="14.4" r="2.80"/><circle cx="627.5" cy="13.7" r="2.80"/><circle cx="631.3" cy="15.5" r="2.80"/><circle cx="635.1" cy="16.0" r="2.80"/><circle cx="638.9" cy="19.0" r="2.80"/><circle cx="642.7" cy="22.3" r="2.80"/><circle cx="646.5" cy="28.0" r="2.80"/><circle cx="650.2" cy="32.3" r="2.80"/><circle cx="654.0" cy="37.1" r="2.80"/><circle cx="657.8" cy="42.7" r="2.80"/><circle cx="661.6" cy="49.5" r="2.80"/><circle cx="665.5" cy="56.2" r="2.80"/></g>
<polyline points="414.3,174.2 419.2,180.1 423.0,183.9 426.8,187.6 430.6,191.4 434.4,195.3 438.2,197.6 442.0,199.7 445.7,198.0 449.5,196.3 453.3,194.5 457.1,192.6 460.9,190.5 464.7,188.3 468.5,186.0 472.3,183.7 476.0,181.3 479.8,177.3 483.6,171.8 487.4,165.8 491.2,159.2 495.0,144.4 498.8,136.9 502.5,133.7 506.3,127.1 510.1,121.3 513.9,115.9 517.7,113.2 521.5,110.4 525.3,106.7 529.1,102.1 532.8,92.5 536.6,83.3 540.4,75.1 544.2,64.6 548.0,56.3 551.8,55.0 555.6,57.5 559.4,61.8 563.1,65.8 566.9,69.6 570.7,73.4 574.5,77.6 578.3,83.0 582.1,88.2 585.9,88.4 589.6,84.1 593.4,76.6 597.2,67.0 601.0,60.3 604.8,54.9 608.6,50.2 612.4,45.8 616.2,42.3 619.9,40.0 623.7,39.4 627.5,39.1 631.3,39.2 635.1,42.3 638.9,47.3 642.7,54.0 646.5,60.0 650.2,66.4 654.0,73.1 657.8,80.1 661.6,85.9 665.5,93.3" fill="none" stroke="#ff0000" stroke-width="1.3" stroke-linejoin="round"/>
<g fill="#ff0000" shape-rendering="crispEdges"><path d="M414.3 170.4L417.7 176.3L410.9 176.3Z"/><path d="M419.2 176.1L422.6 182.0L415.8 182.0Z"/><path d="M423.0 181.2L426.4 187.2L419.6 187.2Z"/><path d="M426.8 184.3L430.2 190.3L423.4 190.3Z"/><path d="M430.6 188.4L434.0 194.4L427.2 194.4Z"/><path d="M434.4 191.1L437.8 197.1L431.0 197.1Z"/><path d="M438.2 193.4L441.6 199.3L434.8 199.3Z"/><path d="M442.0 196.6L445.4 202.6L438.6 202.6Z"/><path d="M445.7 194.5L449.1 200.4L442.3 200.4Z"/><path d="M449.5 192.2L452.9 198.1L446.1 198.1Z"/><path d="M453.3 191.9L456.7 197.8L449.9 197.8Z"/><path d="M457.1 189.4L460.5 195.4L453.7 195.4Z"/><path d="M460.9 187.7L464.3 193.6L457.5 193.6Z"/><path d="M464.7 184.1L468.1 190.1L461.3 190.1Z"/><path d="M468.5 183.3L471.9 189.2L465.1 189.2Z"/><path d="M472.3 179.5L475.7 185.5L468.9 185.5Z"/><path d="M476.0 178.6L479.4 184.5L472.6 184.5Z"/><path d="M479.8 173.8L483.2 179.8L476.4 179.8Z"/><path d="M483.6 168.1L487.0 174.1L480.2 174.1Z"/><path d="M487.4 162.5L490.8 168.4L484.0 168.4Z"/><path d="M491.2 156.6L494.6 162.5L487.8 162.5Z"/><path d="M495.0 140.6L498.4 146.5L491.6 146.5Z"/><path d="M498.8 132.8L502.2 138.8L495.4 138.8Z"/><path d="M502.5 130.3L505.9 136.3L499.1 136.3Z"/><path d="M506.3 123.3L509.7 129.2L502.9 129.2Z"/><path d="M510.1 117.2L513.5 123.1L506.7 123.1Z"/><path d="M513.9 111.9L517.3 117.9L510.5 117.9Z"/><path d="M517.7 108.9L521.1 114.9L514.3 114.9Z"/><path d="M521.5 106.4L524.9 112.4L518.1 112.4Z"/><path d="M525.3 103.0L528.7 108.9L521.9 108.9Z"/><path d="M529.1 98.3L532.5 104.3L525.7 104.3Z"/><path d="M532.8 89.6L536.2 95.5L529.4 95.5Z"/><path d="M536.6 79.6L540.0 85.5L533.2 85.5Z"/><path d="M540.4 71.7L543.8 77.7L537.0 77.7Z"/><path d="M544.2 60.6L547.6 66.6L540.8 66.6Z"/><path d="M548.0 52.6L551.4 58.6L544.6 58.6Z"/><path d="M551.8 50.8L555.2 56.7L548.4 56.7Z"/><path d="M555.6 53.7L559.0 59.6L552.2 59.6Z"/><path d="M559.4 57.6L562.8 63.5L556.0 63.5Z"/><path d="M563.1 62.9L566.5 68.8L559.7 68.8Z"/><path d="M566.9 66.3L570.3 72.3L563.5 72.3Z"/><path d="M570.7 69.5L574.1 75.4L567.3 75.4Z"/><path d="M574.5 74.2L577.9 80.1L571.1 80.1Z"/><path d="M578.3 80.4L581.7 86.4L574.9 86.4Z"/><path d="M582.1 84.1L585.5 90.1L578.7 90.1Z"/><path d="M585.9 85.5L589.3 91.5L582.5 91.5Z"/><path d="M589.6 80.6L593.0 86.5L586.2 86.5Z"/><path d="M593.4 73.2L596.8 79.2L590.0 79.2Z"/><path d="M597.2 64.2L600.6 70.1L593.8 70.1Z"/><path d="M601.0 56.7L604.4 62.7L597.6 62.7Z"/><path d="M604.8 51.5L608.2 57.5L601.4 57.5Z"/><path d="M608.6 47.1L612.0 53.1L605.2 53.1Z"/><path d="M612.4 43.3L615.8 49.2L609.0 49.2Z"/><path d="M616.2 38.6L619.6 44.6L612.8 44.6Z"/><path d="M619.9 37.2L623.3 43.1L616.5 43.1Z"/><path d="M623.7 36.3L627.1 42.3L620.3 42.3Z"/><path d="M627.5 35.9L630.9 41.9L624.1 41.9Z"/><path d="M631.3 35.6L634.7 41.6L627.9 41.6Z"/><path d="M635.1 38.7L638.5 44.6L631.7 44.6Z"/><path d="M638.9 43.1L642.3 49.1L635.5 49.1Z"/><path d="M642.7 49.9L646.1 55.8L639.3 55.8Z"/><path d="M646.5 55.8L649.9 61.8L643.1 61.8Z"/><path d="M650.2 63.4L653.6 69.4L646.8 69.4Z"/><path d="M654.0 69.3L657.4 75.2L650.6 75.2Z"/><path d="M657.8 76.1L661.2 82.1L654.4 82.1Z"/><path d="M661.6 81.8L665.0 87.7L658.2 87.7Z"/><path d="M665.5 90.5L668.9 96.5L662.1 96.5Z"/></g>
<polyline points="414.3,178.2 419.2,184.0 423.0,188.8 426.8,193.6 430.6,196.8 434.4,199.5 438.2,201.0 442.0,202.4 445.7,202.1 449.5,201.1 453.3,199.8 457.1,198.3 460.9,196.8 464.7,195.6 468.5,194.5 472.3,193.4 476.0,192.2 479.8,191.1 483.6,189.3 487.4,187.0 491.2,183.9 495.0,179.3 498.8,173.3 502.5,167.5 506.3,161.8 510.1,154.3 513.9,145.7 517.7,139.0 521.5,130.6 525.3,124.8 529.1,120.0 532.8,117.3 536.6,114.7 540.4,111.3 544.2,107.9 548.0,102.8 551.8,98.0 555.6,94.7 559.4,92.0 563.1,89.9 566.9,93.7 570.7,98.5 574.5,103.3 578.3,105.7 582.1,107.0 585.9,107.2 589.6,104.6 593.4,98.1 597.2,87.1 601.0,78.2 604.8,70.7 608.6,63.6 612.4,60.0 616.2,57.7 619.9,56.2 623.7,56.2 627.5,57.8 631.3,60.5 635.1,63.8 638.9,68.0 642.7,73.4 646.5,79.8 650.2,84.5 654.0,89.3 657.8,93.8 661.6,97.1 666.8,104.3" fill="none" stroke="#0000ff" stroke-width="1.3" stroke-linejoin="round"/>
<g fill="#0000ff" shape-rendering="crispEdges"><path d="M414.3 175.3L417.4 178.9L414.3 182.5L411.2 178.9Z"/><path d="M419.2 180.7L422.3 184.3L419.2 187.9L416.2 184.3Z"/><path d="M423.0 184.8L426.1 188.4L423.0 192.0L420.0 188.4Z"/><path d="M426.8 189.5L429.9 193.1L426.8 196.7L423.7 193.1Z"/><path d="M430.6 192.8L433.7 196.4L430.6 200.0L427.5 196.4Z"/><path d="M434.4 195.8L437.4 199.4L434.4 203.0L431.3 199.4Z"/><path d="M438.2 196.8L441.2 200.4L438.2 204.0L435.1 200.4Z"/><path d="M442.0 198.7L445.0 202.3L442.0 205.9L438.9 202.3Z"/><path d="M445.7 198.0L448.8 201.6L445.7 205.2L442.7 201.6Z"/><path d="M449.5 198.3L452.6 201.9L449.5 205.5L446.5 201.9Z"/><path d="M453.3 197.1L456.4 200.7L453.3 204.3L450.3 200.7Z"/><path d="M457.1 194.8L460.2 198.4L457.1 202.0L454.0 198.4Z"/><path d="M460.9 192.7L464.0 196.3L460.9 199.9L457.8 196.3Z"/><path d="M464.7 192.8L467.7 196.4L464.7 200.0L461.6 196.4Z"/><path d="M468.5 190.5L471.5 194.1L468.5 197.7L465.4 194.1Z"/><path d="M472.3 189.5L475.3 193.1L472.3 196.7L469.2 193.1Z"/><path d="M476.0 187.7L479.1 191.3L476.0 194.9L473.0 191.3Z"/><path d="M479.8 187.3L482.9 190.9L479.8 194.5L476.8 190.9Z"/><path d="M483.6 185.7L486.7 189.3L483.6 192.9L480.6 189.3Z"/><path d="M487.4 183.4L490.5 187.0L487.4 190.6L484.3 187.0Z"/><path d="M491.2 179.7L494.2 183.3L491.2 186.9L488.1 183.3Z"/><path d="M495.0 175.7L498.0 179.3L495.0 182.9L491.9 179.3Z"/><path d="M498.8 168.8L501.8 172.4L498.8 176.0L495.7 172.4Z"/><path d="M502.5 163.4L505.6 167.0L502.5 170.6L499.5 167.0Z"/><path d="M506.3 157.5L509.4 161.1L506.3 164.7L503.3 161.1Z"/><path d="M510.1 150.5L513.2 154.1L510.1 157.7L507.1 154.1Z"/><path d="M513.9 141.3L517.0 144.9L513.9 148.5L510.8 144.9Z"/><path d="M517.7 134.5L520.8 138.1L517.7 141.7L514.6 138.1Z"/><path d="M521.5 126.6L524.5 130.2L521.5 133.8L518.4 130.2Z"/><path d="M525.3 120.8L528.3 124.4L525.3 128.0L522.2 124.4Z"/><path d="M529.1 116.6L532.1 120.2L529.1 123.8L526.0 120.2Z"/><path d="M532.8 113.8L535.9 117.4L532.8 121.0L529.8 117.4Z"/><path d="M536.6 111.5L539.7 115.1L536.6 118.7L533.6 115.1Z"/><path d="M540.4 107.9L543.5 111.5L540.4 115.1L537.4 111.5Z"/><path d="M544.2 104.6L547.3 108.2L544.2 111.8L541.1 108.2Z"/><path d="M548.0 99.9L551.1 103.5L548.0 107.1L544.9 103.5Z"/><path d="M551.8 94.2L554.8 97.8L551.8 101.4L548.7 97.8Z"/><path d="M555.6 90.8L558.6 94.4L555.6 98.0L552.5 94.4Z"/><path d="M559.4 89.3L562.4 92.9L559.4 96.5L556.3 92.9Z"/><path d="M563.1 85.7L566.2 89.3L563.1 92.9L560.1 89.3Z"/><path d="M566.9 90.5L570.0 94.1L566.9 97.7L563.9 94.1Z"/><path d="M570.7 95.2L573.8 98.8L570.7 102.4L567.7 98.8Z"/><path d="M574.5 98.9L577.6 102.5L574.5 106.1L571.4 102.5Z"/><path d="M578.3 102.7L581.3 106.3L578.3 109.9L575.2 106.3Z"/><path d="M582.1 104.1L585.1 107.7L582.1 111.3L579.0 107.7Z"/><path d="M585.9 103.9L588.9 107.5L585.9 111.1L582.8 107.5Z"/><path d="M589.6 101.4L592.7 105.0L589.6 108.6L586.6 105.0Z"/><path d="M593.4 95.1L596.5 98.7L593.4 102.3L590.4 98.7Z"/><path d="M597.2 82.8L600.3 86.4L597.2 90.0L594.2 86.4Z"/><path d="M601.0 74.6L604.1 78.2L601.0 81.8L598.0 78.2Z"/><path d="M604.8 67.1L607.9 70.7L604.8 74.3L601.7 70.7Z"/><path d="M608.6 60.6L611.6 64.2L608.6 67.8L605.5 64.2Z"/><path d="M612.4 57.0L615.4 60.6L612.4 64.2L609.3 60.6Z"/><path d="M616.2 54.7L619.2 58.3L616.2 61.9L613.1 58.3Z"/><path d="M619.9 52.8L623.0 56.4L619.9 60.0L616.9 56.4Z"/><path d="M623.7 53.3L626.8 56.9L623.7 60.5L620.7 56.9Z"/><path d="M627.5 54.5L630.6 58.1L627.5 61.7L624.5 58.1Z"/><path d="M631.3 57.2L634.4 60.8L631.3 64.4L628.2 60.8Z"/><path d="M635.1 59.7L638.2 63.3L635.1 66.9L632.0 63.3Z"/><path d="M638.9 63.6L641.9 67.2L638.9 70.8L635.8 67.2Z"/><path d="M642.7 69.1L645.7 72.7L642.7 76.3L639.6 72.7Z"/><path d="M646.5 75.9L649.5 79.5L646.5 83.1L643.4 79.5Z"/><path d="M650.2 80.2L653.3 83.8L650.2 87.4L647.2 83.8Z"/><path d="M654.0 86.3L657.1 89.9L654.0 93.5L651.0 89.9Z"/><path d="M657.8 90.3L660.9 93.9L657.8 97.5L654.8 93.9Z"/><path d="M661.6 93.8L664.7 97.4L661.6 101.0L658.5 97.4Z"/><path d="M666.8 100.9L669.9 104.5L666.8 108.1L663.7 104.5Z"/></g>
<polyline points="414.3,185.4 419.2,189.5 423.0,194.1 426.8,199.3 430.6,203.0 434.4,205.4 438.2,207.2 442.0,208.2 445.7,208.6 449.5,207.2 453.3,205.7 457.1,204.6 460.9,203.5 464.7,202.4 468.5,201.3 472.3,200.1 476.0,199.0 479.8,197.8 483.6,196.7 487.4,194.8 491.2,192.9 495.0,190.4 498.8,186.2 502.5,181.8 506.3,176.1 510.1,169.2 513.9,161.2 517.7,152.5 521.5,146.8 525.3,141.5 529.1,135.2 532.8,128.6 536.6,123.3 540.4,118.9 544.2,115.1 548.0,111.7 551.8,108.4 555.6,105.1 559.4,102.9 563.1,102.6 566.9,105.8 570.7,109.5 574.5,113.2 578.3,116.6 582.1,119.6 585.9,122.4 589.6,122.3 593.4,114.3 597.2,105.7 601.0,99.9 604.8,93.5 608.6,86.7 612.4,79.9 616.2,76.1 619.9,73.8 623.7,72.2 627.5,72.8 631.3,75.3 635.1,80.0 638.9,83.4 642.7,87.9 646.5,93.5 650.2,97.7 654.0,101.5 657.8,105.1 661.6,110.2 665.5,117.3" fill="none" stroke="#00ff00" stroke-width="1.3" stroke-linejoin="round"/>
<g fill="#00ff00" shape-rendering="crispEdges"><path d="M414.3 189.1L417.7 183.2L410.9 183.2Z"/><path d="M419.2 192.9L422.6 187.0L415.8 187.0Z"/><path d="M423.0 196.6L426.4 190.6L419.6 190.6Z"/><path d="M426.8 203.2L430.2 197.2L423.4 197.2Z"/><path d="M430.6 206.8L434.0 200.9L427.2 200.9Z"/><path d="M434.4 208.8L437.8 202.8L431.0 202.8Z"/><path d="M438.2 210.7L441.6 204.7L434.8 204.7Z"/><path d="M442.0 211.8L445.4 205.9L438.6 205.9Z"/><path d="M445.7 211.2L449.1 205.3L442.3 205.3Z"/><path d="M449.5 211.0L452.9 205.0L446.1 205.0Z"/><path d="M453.3 208.7L456.7 202.7L449.9 202.7Z"/><path d="M457.1 207.3L460.5 201.3L453.7 201.3Z"/><path d="M460.9 206.5L464.3 200.6L457.5 200.6Z"/><path d="M464.7 206.2L468.1 200.3L461.3 200.3Z"/><path d="M468.5 204.1L471.9 198.2L465.1 198.2Z"/><path d="M472.3 203.9L475.7 198.0L468.9 198.0Z"/><path d="M476.0 203.2L479.4 197.3L472.6 197.3Z"/><path d="M479.8 201.2L483.2 195.2L476.4 195.2Z"/><path d="M483.6 199.8L487.0 193.9L480.2 193.9Z"/><path d="M487.4 198.2L490.8 192.2L484.0 192.2Z"/><path d="M491.2 196.6L494.6 190.7L487.8 190.7Z"/><path d="M495.0 194.3L498.4 188.3L491.6 188.3Z"/><path d="M498.8 189.8L502.2 183.8L495.4 183.8Z"/><path d="M502.5 185.4L505.9 179.5L499.1 179.5Z"/><path d="M506.3 178.7L509.7 172.8L502.9 172.8Z"/><path d="M510.1 172.0L513.5 166.0L506.7 166.0Z"/><path d="M513.9 164.1L517.3 158.2L510.5 158.2Z"/><path d="M517.7 156.4L521.1 150.4L514.3 150.4Z"/><path d="M521.5 149.8L524.9 143.9L518.1 143.9Z"/><path d="M525.3 145.1L528.7 139.1L521.9 139.1Z"/><path d="M529.1 137.7L532.5 131.8L525.7 131.8Z"/><path d="M532.8 131.2L536.2 125.3L529.4 125.3Z"/><path d="M536.6 126.3L540.0 120.3L533.2 120.3Z"/><path d="M540.4 122.7L543.8 116.7L537.0 116.7Z"/><path d="M544.2 118.8L547.6 112.9L540.8 112.9Z"/><path d="M548.0 115.4L551.4 109.5L544.6 109.5Z"/><path d="M551.8 111.4L555.2 105.5L548.4 105.5Z"/><path d="M555.6 108.5L559.0 102.6L552.2 102.6Z"/><path d="M559.4 106.2L562.8 100.2L556.0 100.2Z"/><path d="M563.1 105.9L566.5 100.0L559.7 100.0Z"/><path d="M566.9 108.5L570.3 102.5L563.5 102.5Z"/><path d="M570.7 113.6L574.1 107.7L567.3 107.7Z"/><path d="M574.5 116.1L577.9 110.1L571.1 110.1Z"/><path d="M578.3 120.8L581.7 114.9L574.9 114.9Z"/><path d="M582.1 123.8L585.5 117.8L578.7 117.8Z"/><path d="M585.9 124.9L589.3 119.0L582.5 119.0Z"/><path d="M589.6 125.6L593.0 119.6L586.2 119.6Z"/><path d="M593.4 118.3L596.8 112.3L590.0 112.3Z"/><path d="M597.2 110.0L600.6 104.0L593.8 104.0Z"/><path d="M601.0 103.2L604.4 97.2L597.6 97.2Z"/><path d="M604.8 96.5L608.2 90.5L601.4 90.5Z"/><path d="M608.6 89.6L612.0 83.6L605.2 83.6Z"/><path d="M612.4 84.1L615.8 78.2L609.0 78.2Z"/><path d="M616.2 78.9L619.6 73.0L612.8 73.0Z"/><path d="M619.9 77.3L623.3 71.4L616.5 71.4Z"/><path d="M623.7 75.0L627.1 69.0L620.3 69.0Z"/><path d="M627.5 76.3L630.9 70.3L624.1 70.3Z"/><path d="M631.3 79.5L634.7 73.6L627.9 73.6Z"/><path d="M635.1 82.8L638.5 76.8L631.7 76.8Z"/><path d="M638.9 87.4L642.3 81.5L635.5 81.5Z"/><path d="M642.7 91.3L646.1 85.4L639.3 85.4Z"/><path d="M646.5 97.6L649.9 91.6L643.1 91.6Z"/><path d="M650.2 101.5L653.6 95.6L646.8 95.6Z"/><path d="M654.0 104.4L657.4 98.4L650.6 98.4Z"/><path d="M657.8 109.2L661.2 103.3L654.4 103.3Z"/><path d="M661.6 113.5L665.0 107.6L658.2 107.6Z"/><path d="M665.5 119.8L668.9 113.9L662.1 113.9Z"/></g>
</g>
<path d="M400.5 4.5H684.5V227.5" fill="none" stroke="#000" stroke-width="1.2"/>
<path d="M400.5 4.0V227.5H684.5" fill="none" stroke="#000" stroke-width="1.5"/>
<path d="M397.0 227.5H400.5 M398.0 205.5H400.5 M397.0 182.5H400.5 M398.0 160.5H400.5 M397.0 138.5H400.5 M398.0 115.5H400.5 M397.0 93.5H400.5 M398.0 71.5H400.5 M397.0 49.5H400.5 M398.0 26.5H400.5 M397.0 4.5H400.5 M400.5 227.5V231.0 M438.5 227.5V231.0 M476.5 227.5V231.0 M513.5 227.5V231.0 M551.5 227.5V231.0 M589.5 227.5V231.0 M627.5 227.5V231.0 M665.5 227.5V231.0" stroke="#000" stroke-width="1.1" fill="none"/>
<text x="357.2" y="230.8" textLength="35.8" lengthAdjust="spacingAndGlyphs" class="tl">0.0E+0</text>
<text x="357.2" y="186.2" textLength="35.8" lengthAdjust="spacingAndGlyphs" class="tl">1.0E-2</text>
<text x="357.2" y="141.6" textLength="35.8" lengthAdjust="spacingAndGlyphs" class="tl">2.0E-2</text>
<text x="357.2" y="96.9" textLength="35.8" lengthAdjust="spacingAndGlyphs" class="tl">3.0E-2</text>
<text x="357.2" y="52.3" textLength="35.8" lengthAdjust="spacingAndGlyphs" class="tl">4.0E-2</text>
<text x="357.2" y="7.7" textLength="35.8" lengthAdjust="spacingAndGlyphs" class="tl">5.0E-2</text>
<text x="400.3" y="243.2" text-anchor="middle" class="tl" textLength="5.9" lengthAdjust="spacingAndGlyphs">0</text>
<text x="438.2" y="243.2" text-anchor="middle" class="tl" textLength="17.7" lengthAdjust="spacingAndGlyphs">100</text>
<text x="476.0" y="243.2" text-anchor="middle" class="tl" textLength="17.7" lengthAdjust="spacingAndGlyphs">200</text>
<text x="513.9" y="243.2" text-anchor="middle" class="tl" textLength="17.7" lengthAdjust="spacingAndGlyphs">300</text>
<text x="551.8" y="243.2" text-anchor="middle" class="tl" textLength="17.7" lengthAdjust="spacingAndGlyphs">400</text>
<text x="589.6" y="243.2" text-anchor="middle" class="tl" textLength="17.7" lengthAdjust="spacingAndGlyphs">500</text>
<text x="627.5" y="243.2" text-anchor="middle" class="tl" textLength="17.7" lengthAdjust="spacingAndGlyphs">600</text>
<text x="665.4" y="243.2" text-anchor="middle" class="tl" textLength="17.7" lengthAdjust="spacingAndGlyphs">700</text>
<text x="519.0" y="256.1" textLength="46.5" lengthAdjust="spacingAndGlyphs" class="xl" style="font-size:11.5px;font-weight:bold">Temp(°C)</text>
<text transform="translate(356.9,114.7) rotate(-90)" text-anchor="middle" class="yl" textLength="28.0" lengthAdjust="spacingAndGlyphs">tanδ</text>
<rect x="401.5" y="5.5" width="95.0" height="65.0" fill="#fff" stroke="#000" stroke-width="1.3"/>
<path d="M403.8 15.5H431.6" stroke="#000000" stroke-width="1.3"/>
<g fill="#000000"><circle cx="418.0" cy="15.6" r="2.80"/></g>
<text x="438.7" y="19.7" textLength="13.6" lengthAdjust="spacingAndGlyphs" class="lg" style="font-size:13.20px">50</text>
<text x="460.0" y="19.7" textLength="6.0" lengthAdjust="spacingAndGlyphs" class="lg" style="font-size:13.20px">k</text>
<text x="472.8" y="19.7" textLength="14.5" lengthAdjust="spacingAndGlyphs" class="lg" style="font-size:13.20px">Hz</text>
<path d="M403.8 30.5H431.6" stroke="#ff0000" stroke-width="1.3"/>
<g fill="#ff0000"><path d="M418.0 26.6L421.4 32.5L414.6 32.5Z"/></g>
<text x="438.7" y="34.1" textLength="20.3" lengthAdjust="spacingAndGlyphs" class="lg" style="font-size:13.20px">100</text>
<text x="466.5" y="34.1" textLength="6.9" lengthAdjust="spacingAndGlyphs" class="lg" style="font-size:13.20px">k</text>
<text x="480.2" y="34.1" textLength="14.4" lengthAdjust="spacingAndGlyphs" class="lg" style="font-size:13.20px">Hz</text>
<path d="M403.8 46.5H431.6" stroke="#0000ff" stroke-width="1.3"/>
<g fill="#0000ff"><path d="M418.0 43.0L421.1 46.6L418.0 50.2L414.9 46.6Z"/></g>
<text x="438.7" y="50.7" textLength="20.3" lengthAdjust="spacingAndGlyphs" class="lg" style="font-size:13.20px">500</text>
<text x="466.5" y="50.7" textLength="6.9" lengthAdjust="spacingAndGlyphs" class="lg" style="font-size:13.20px">k</text>
<text x="480.2" y="50.7" textLength="14.4" lengthAdjust="spacingAndGlyphs" class="lg" style="font-size:13.20px">Hz</text>
<path d="M403.8 61.5H431.6" stroke="#00ff00" stroke-width="1.3"/>
<g fill="#00ff00"><path d="M418.0 64.7L421.4 58.8L414.6 58.8Z"/></g>
<text x="438.7" y="65.4" textLength="6.1" lengthAdjust="spacingAndGlyphs" class="lg" style="font-size:13.20px">1</text>
<text x="451.9" y="65.4" textLength="7.9" lengthAdjust="spacingAndGlyphs" class="lg" style="font-size:13.20px">M</text>
<text x="467.7" y="65.4" textLength="12.4" lengthAdjust="spacingAndGlyphs" class="lg" style="font-size:13.20px">Hz</text>
<text x="478.1" y="305.5" textLength="122.2" lengthAdjust="spacingAndGlyphs" class="cap">(2) Rock type R2</text>
<clipPath id="c3"><rect x="53.5" y="345.3" width="279.8" height="231.3"/></clipPath>
<g clip-path="url(#c3)">
<polyline points="66.3,507.4 68.5,509.0 72.2,511.8 76.0,514.1 79.7,516.3 83.4,518.5 87.2,520.8 90.9,523.0 94.6,525.2 98.3,527.3 102.1,529.3 105.8,529.1 109.5,528.1 113.3,525.6 117.0,522.8 120.7,520.0 124.5,517.2 128.2,513.6 131.9,508.7 135.6,501.1 139.4,492.1 143.1,484.5 146.8,474.8 150.6,465.5 154.3,457.6 158.0,450.7 161.7,441.5 165.5,435.9 169.2,434.2 172.9,430.8 176.7,423.0 180.4,414.3 184.1,410.0 187.8,408.1 191.6,407.4 195.3,407.0 199.0,407.6 202.8,408.7 206.5,410.0 210.2,411.5 213.9,412.9 217.7,414.1 221.4,415.4 225.1,417.7 228.9,420.5 232.6,423.2 236.3,425.9 240.1,424.9 243.8,421.3 247.5,413.3 251.2,402.1 255.0,393.9 258.7,388.0 262.4,383.0 266.2,376.4 269.9,370.5 273.6,366.6 277.3,365.1 281.1,364.6 284.8,365.2 288.5,367.6 292.3,372.5 296.0,378.2 299.7,383.9 303.4,392.8 307.2,400.8 310.9,412.9 315.3,430.1" fill="none" stroke="#000000" stroke-width="1.3" stroke-linejoin="round"/>
<g fill="#000000" shape-rendering="crispEdges"><circle cx="66.3" cy="506.5" r="2.80"/><circle cx="68.5" cy="509.0" r="2.80"/><circle cx="72.2" cy="511.7" r="2.80"/><circle cx="76.0" cy="513.8" r="2.80"/><circle cx="79.7" cy="515.7" r="2.80"/><circle cx="83.4" cy="518.3" r="2.80"/><circle cx="87.2" cy="520.4" r="2.80"/><circle cx="90.9" cy="523.6" r="2.80"/><circle cx="94.6" cy="524.3" r="2.80"/><circle cx="98.3" cy="527.7" r="2.80"/><circle cx="102.1" cy="529.9" r="2.80"/><circle cx="105.8" cy="528.5" r="2.80"/><circle cx="109.5" cy="528.9" r="2.80"/><circle cx="113.3" cy="526.0" r="2.80"/><circle cx="117.0" cy="523.5" r="2.80"/><circle cx="120.7" cy="519.6" r="2.80"/><circle cx="124.5" cy="517.0" r="2.80"/><circle cx="128.2" cy="513.4" r="2.80"/><circle cx="131.9" cy="509.6" r="2.80"/><circle cx="135.6" cy="501.3" r="2.80"/><circle cx="139.4" cy="491.8" r="2.80"/><circle cx="143.1" cy="484.4" r="2.80"/><circle cx="146.8" cy="474.4" r="2.80"/><circle cx="150.6" cy="464.7" r="2.80"/><circle cx="154.3" cy="456.9" r="2.80"/><circle cx="158.0" cy="451.3" r="2.80"/><circle cx="161.7" cy="441.2" r="2.80"/><circle cx="165.5" cy="436.7" r="2.80"/><circle cx="169.2" cy="433.8" r="2.80"/><circle cx="172.9" cy="430.4" r="2.80"/><circle cx="176.7" cy="423.0" r="2.80"/><circle cx="180.4" cy="413.8" r="2.80"/><circle cx="184.1" cy="409.8" r="2.80"/><circle cx="187.8" cy="408.9" r="2.80"/><circle cx="191.6" cy="408.1" r="2.80"/><circle cx="195.3" cy="407.6" r="2.80"/><circle cx="199.0" cy="407.8" r="2.80"/><circle cx="202.8" cy="409.4" r="2.80"/><circle cx="206.5" cy="410.8" r="2.80"/><circle cx="210.2" cy="411.6" r="2.80"/><circle cx="213.9" cy="413.3" r="2.80"/><circle cx="217.7" cy="413.3" r="2.80"/><circle cx="221.4" cy="415.8" r="2.80"/><circle cx="225.1" cy="417.6" r="2.80"/><circle cx="228.9" cy="420.9" r="2.80"/><circle cx="232.6" cy="423.4" r="2.80"/><circle cx="236.3" cy="425.5" r="2.80"/><circle cx="240.1" cy="424.1" r="2.80"/><circle cx="243.8" cy="422.0" r="2.80"/><circle cx="247.5" cy="412.6" r="2.80"/><circle cx="251.2" cy="402.1" r="2.80"/><circle cx="255.0" cy="393.7" r="2.80"/><circle cx="258.7" cy="387.6" r="2.80"/><circle cx="262.4" cy="383.5" r="2.80"/><circle cx="266.2" cy="377.3" r="2.80"/><circle cx="269.9" cy="370.0" r="2.80"/><circle cx="273.6" cy="366.9" r="2.80"/><circle cx="277.3" cy="364.8" r="2.80"/><circle cx="281.1" cy="364.7" r="2.80"/><circle cx="284.8" cy="365.1" r="2.80"/><circle cx="288.5" cy="367.0" r="2.80"/><circle cx="292.3" cy="371.9" r="2.80"/><circle cx="296.0" cy="377.7" r="2.80"/><circle cx="299.7" cy="384.7" r="2.80"/><circle cx="303.4" cy="392.8" r="2.80"/><circle cx="307.2" cy="400.3" r="2.80"/><circle cx="310.9" cy="413.7" r="2.80"/><circle cx="315.3" cy="431.0" r="2.80"/></g>
<polyline points="65.3,510.5 68.5,512.8 72.2,515.4 76.0,518.0 79.7,520.6 83.4,523.2 87.2,525.7 90.9,528.0 94.6,530.3 98.3,532.2 102.1,534.0 105.8,534.0 109.5,534.0 113.3,532.5 117.0,530.6 120.7,528.2 124.5,525.4 128.2,521.8 131.9,516.9 135.6,511.5 139.4,505.5 143.1,499.5 146.8,491.6 150.6,484.4 154.3,477.1 158.0,468.2 161.7,459.2 165.5,451.4 169.2,445.1 172.9,442.0 176.7,438.9 180.4,434.2 184.1,430.4 187.8,427.6 191.6,424.0 195.3,419.5 199.0,418.1 202.8,419.5 206.5,419.0 210.2,418.3 213.9,420.4 217.7,423.8 221.4,427.5 225.1,430.9 228.9,434.2 232.6,438.5 236.3,440.1 240.1,440.4 243.8,440.0 247.5,436.5 251.2,431.0 255.0,425.3 258.7,416.9 262.4,409.4 266.2,404.0 269.9,401.1 273.6,398.6 277.3,397.4 281.1,397.6 284.8,399.5 288.5,402.0 292.3,405.3 296.0,410.9 299.7,416.5 303.4,422.1 307.2,427.6 310.9,433.7 316.0,439.6" fill="none" stroke="#ff0000" stroke-width="1.3" stroke-linejoin="round"/>
<g fill="#ff0000" shape-rendering="crispEdges"><path d="M65.3 507.0L68.7 513.0L61.9 513.0Z"/><path d="M68.5 508.7L71.9 514.7L65.1 514.7Z"/><path d="M72.2 511.4L75.6 517.4L68.8 517.4Z"/><path d="M76.0 513.9L79.4 519.8L72.6 519.8Z"/><path d="M79.7 516.9L83.1 522.9L76.3 522.9Z"/><path d="M83.4 519.1L86.8 525.0L80.0 525.0Z"/><path d="M87.2 521.8L90.6 527.8L83.8 527.8Z"/><path d="M90.9 524.2L94.3 530.1L87.5 530.1Z"/><path d="M94.6 527.0L98.0 532.9L91.2 532.9Z"/><path d="M98.3 529.4L101.7 535.4L94.9 535.4Z"/><path d="M102.1 531.0L105.5 537.0L98.7 537.0Z"/><path d="M105.8 530.4L109.2 536.4L102.4 536.4Z"/><path d="M109.5 530.4L112.9 536.4L106.1 536.4Z"/><path d="M113.3 529.1L116.7 535.1L109.9 535.1Z"/><path d="M117.0 527.0L120.4 532.9L113.6 532.9Z"/><path d="M120.7 524.5L124.1 530.4L117.3 530.4Z"/><path d="M124.5 521.2L127.9 527.2L121.1 527.2Z"/><path d="M128.2 518.0L131.6 523.9L124.8 523.9Z"/><path d="M131.9 514.4L135.3 520.3L128.5 520.3Z"/><path d="M135.6 507.4L139.0 513.4L132.2 513.4Z"/><path d="M139.4 502.1L142.8 508.0L136.0 508.0Z"/><path d="M143.1 496.3L146.5 502.3L139.7 502.3Z"/><path d="M146.8 488.9L150.2 494.8L143.4 494.8Z"/><path d="M150.6 480.5L154.0 486.5L147.2 486.5Z"/><path d="M154.3 473.3L157.7 479.2L150.9 479.2Z"/><path d="M158.0 464.3L161.4 470.3L154.6 470.3Z"/><path d="M161.7 455.6L165.1 461.6L158.3 461.6Z"/><path d="M165.5 447.9L168.9 453.8L162.1 453.8Z"/><path d="M169.2 442.5L172.6 448.5L165.8 448.5Z"/><path d="M172.9 439.3L176.3 445.2L169.5 445.2Z"/><path d="M176.7 436.1L180.1 442.1L173.3 442.1Z"/><path d="M180.4 429.9L183.8 435.9L177.0 435.9Z"/><path d="M184.1 426.2L187.5 432.1L180.7 432.1Z"/><path d="M187.8 424.5L191.2 430.5L184.4 430.5Z"/><path d="M191.6 421.3L195.0 427.3L188.2 427.3Z"/><path d="M195.3 416.0L198.7 422.0L191.9 422.0Z"/><path d="M199.0 414.9L202.4 420.8L195.6 420.8Z"/><path d="M202.8 415.2L206.2 421.2L199.4 421.2Z"/><path d="M206.5 415.4L209.9 421.4L203.1 421.4Z"/><path d="M210.2 415.7L213.6 421.6L206.8 421.6Z"/><path d="M213.9 417.6L217.3 423.5L210.5 423.5Z"/><path d="M217.7 421.0L221.1 427.0L214.3 427.0Z"/><path d="M221.4 425.0L224.8 430.9L218.0 430.9Z"/><path d="M225.1 427.0L228.5 433.0L221.7 433.0Z"/><path d="M228.9 430.1L232.3 436.0L225.5 436.0Z"/><path d="M232.6 434.5L236.0 440.4L229.2 440.4Z"/><path d="M236.3 436.7L239.7 442.7L232.9 442.7Z"/><path d="M240.1 437.4L243.5 443.3L236.7 443.3Z"/><path d="M243.8 437.4L247.2 443.4L240.4 443.4Z"/><path d="M247.5 433.5L250.9 439.4L244.1 439.4Z"/><path d="M251.2 427.9L254.6 433.8L247.8 433.8Z"/><path d="M255.0 422.4L258.4 428.4L251.6 428.4Z"/><path d="M258.7 413.5L262.1 419.4L255.3 419.4Z"/><path d="M262.4 406.1L265.8 412.0L259.0 412.0Z"/><path d="M266.2 399.8L269.6 405.7L262.8 405.7Z"/><path d="M269.9 398.2L273.3 404.1L266.5 404.1Z"/><path d="M273.6 394.7L277.0 400.7L270.2 400.7Z"/><path d="M277.3 394.8L280.7 400.7L273.9 400.7Z"/><path d="M281.1 394.5L284.5 400.4L277.7 400.4Z"/><path d="M284.8 395.7L288.2 401.7L281.4 401.7Z"/><path d="M288.5 397.9L291.9 403.8L285.1 403.8Z"/><path d="M292.3 401.4L295.7 407.4L288.9 407.4Z"/><path d="M296.0 407.7L299.4 413.7L292.6 413.7Z"/><path d="M299.7 413.5L303.1 419.4L296.3 419.4Z"/><path d="M303.4 418.0L306.8 424.0L300.0 424.0Z"/><path d="M307.2 423.5L310.6 429.4L303.8 429.4Z"/><path d="M310.9 430.3L314.3 436.3L307.5 436.3Z"/><path d="M316.0 436.3L319.4 442.3L312.6 442.3Z"/></g>
<polyline points="64.2,511.5 68.5,515.8 72.2,519.5 76.0,522.5 79.7,525.1 83.4,527.7 87.2,530.0 90.9,532.2 94.6,534.3 98.3,535.8 102.1,537.3 105.8,538.1 109.5,538.1 113.3,538.1 117.0,537.3 120.7,536.1 124.5,535.0 128.2,533.5 131.9,532.0 135.6,530.4 139.4,528.6 143.1,526.7 146.8,524.0 150.6,520.2 154.3,514.9 158.0,509.0 161.7,502.3 165.5,492.6 169.2,485.1 172.9,478.0 176.7,468.9 180.4,461.4 184.1,458.5 187.8,456.5 191.6,455.0 195.3,453.8 199.0,452.8 202.8,451.9 206.5,450.8 210.2,449.7 213.9,448.0 217.7,446.2 221.4,447.0 225.1,449.8 228.9,453.0 232.6,455.8 236.3,455.8 240.1,455.8 243.8,452.1 247.5,446.8 251.2,441.4 255.0,436.2 258.7,430.6 262.4,426.0 266.2,421.6 269.9,417.9 273.6,414.9 277.3,413.7 281.1,413.5 284.8,414.5 288.5,418.2 292.3,422.2 296.0,426.3 299.7,430.6 303.4,435.1 307.2,438.2 310.9,441.3 316.0,446.4" fill="none" stroke="#0000ff" stroke-width="1.3" stroke-linejoin="round"/>
<g fill="#0000ff" shape-rendering="crispEdges"><path d="M64.2 507.7L67.3 511.3L64.2 514.9L61.1 511.3Z"/><path d="M68.5 511.7L71.6 515.3L68.5 518.9L65.5 515.3Z"/><path d="M72.2 516.1L75.3 519.7L72.2 523.3L69.2 519.7Z"/><path d="M76.0 518.0L79.0 521.6L76.0 525.2L72.9 521.6Z"/><path d="M79.7 521.1L82.8 524.7L79.7 528.3L76.6 524.7Z"/><path d="M83.4 524.0L86.5 527.6L83.4 531.2L80.4 527.6Z"/><path d="M87.2 527.2L90.2 530.8L87.2 534.4L84.1 530.8Z"/><path d="M90.9 528.9L94.0 532.5L90.9 536.1L87.8 532.5Z"/><path d="M94.6 531.4L97.7 535.0L94.6 538.6L91.6 535.0Z"/><path d="M98.3 532.1L101.4 535.7L98.3 539.3L95.3 535.7Z"/><path d="M102.1 533.2L105.1 536.8L102.1 540.4L99.0 536.8Z"/><path d="M105.8 534.0L108.9 537.6L105.8 541.2L102.7 537.6Z"/><path d="M109.5 535.3L112.6 538.9L109.5 542.5L106.5 538.9Z"/><path d="M113.3 534.9L116.3 538.5L113.3 542.1L110.2 538.5Z"/><path d="M117.0 533.3L120.1 536.9L117.0 540.5L113.9 536.9Z"/><path d="M120.7 531.7L123.8 535.3L120.7 538.9L117.7 535.3Z"/><path d="M124.5 531.4L127.5 535.0L124.5 538.6L121.4 535.0Z"/><path d="M128.2 530.2L131.2 533.8L128.2 537.4L125.1 533.8Z"/><path d="M131.9 528.3L135.0 531.9L131.9 535.5L128.8 531.9Z"/><path d="M135.6 526.4L138.7 530.0L135.6 533.6L132.6 530.0Z"/><path d="M139.4 525.3L142.4 528.9L139.4 532.5L136.3 528.9Z"/><path d="M143.1 523.9L146.2 527.5L143.1 531.1L140.0 527.5Z"/><path d="M146.8 519.9L149.9 523.5L146.8 527.1L143.8 523.5Z"/><path d="M150.6 515.8L153.6 519.4L150.6 523.0L147.5 519.4Z"/><path d="M154.3 511.0L157.3 514.6L154.3 518.2L151.2 514.6Z"/><path d="M158.0 505.3L161.1 508.9L158.0 512.5L155.0 508.9Z"/><path d="M161.7 499.0L164.8 502.6L161.7 506.2L158.7 502.6Z"/><path d="M165.5 488.5L168.5 492.1L165.5 495.7L162.4 492.1Z"/><path d="M169.2 482.0L172.3 485.6L169.2 489.2L166.1 485.6Z"/><path d="M172.9 474.9L176.0 478.5L172.9 482.1L169.9 478.5Z"/><path d="M176.7 465.4L179.7 469.0L176.7 472.6L173.6 469.0Z"/><path d="M180.4 457.3L183.4 460.9L180.4 464.5L177.3 460.9Z"/><path d="M184.1 455.7L187.2 459.3L184.1 462.9L181.1 459.3Z"/><path d="M187.8 452.5L190.9 456.1L187.8 459.7L184.8 456.1Z"/><path d="M191.6 451.9L194.6 455.5L191.6 459.1L188.5 455.5Z"/><path d="M195.3 449.7L198.4 453.3L195.3 456.9L192.2 453.3Z"/><path d="M199.0 448.7L202.1 452.3L199.0 455.9L196.0 452.3Z"/><path d="M202.8 448.8L205.8 452.4L202.8 456.0L199.7 452.4Z"/><path d="M206.5 446.8L209.5 450.4L206.5 454.0L203.4 450.4Z"/><path d="M210.2 446.9L213.3 450.5L210.2 454.1L207.2 450.5Z"/><path d="M213.9 444.4L217.0 448.0L213.9 451.6L210.9 448.0Z"/><path d="M217.7 442.0L220.7 445.6L217.7 449.2L214.6 445.6Z"/><path d="M221.4 442.9L224.5 446.5L221.4 450.1L218.3 446.5Z"/><path d="M225.1 446.0L228.2 449.6L225.1 453.2L222.1 449.6Z"/><path d="M228.9 449.7L231.9 453.3L228.9 456.9L225.8 453.3Z"/><path d="M232.6 453.0L235.7 456.6L232.6 460.2L229.5 456.6Z"/><path d="M236.3 451.6L239.4 455.2L236.3 458.8L233.3 455.2Z"/><path d="M240.1 452.0L243.1 455.6L240.1 459.2L237.0 455.6Z"/><path d="M243.8 448.0L246.8 451.6L243.8 455.2L240.7 451.6Z"/><path d="M247.5 444.1L250.6 447.7L247.5 451.3L244.4 447.7Z"/><path d="M251.2 437.2L254.3 440.8L251.2 444.4L248.2 440.8Z"/><path d="M255.0 431.7L258.0 435.3L255.0 438.9L251.9 435.3Z"/><path d="M258.7 426.2L261.8 429.8L258.7 433.4L255.6 429.8Z"/><path d="M262.4 422.2L265.5 425.8L262.4 429.4L259.4 425.8Z"/><path d="M266.2 418.8L269.2 422.4L266.2 426.0L263.1 422.4Z"/><path d="M269.9 415.0L272.9 418.6L269.9 422.2L266.8 418.6Z"/><path d="M273.6 411.7L276.7 415.3L273.6 418.9L270.6 415.3Z"/><path d="M277.3 411.0L280.4 414.6L277.3 418.2L274.3 414.6Z"/><path d="M281.1 410.7L284.1 414.3L281.1 417.9L278.0 414.3Z"/><path d="M284.8 410.6L287.9 414.2L284.8 417.8L281.7 414.2Z"/><path d="M288.5 414.1L291.6 417.7L288.5 421.3L285.5 417.7Z"/><path d="M292.3 419.4L295.3 423.0L292.3 426.6L289.2 423.0Z"/><path d="M296.0 423.1L299.0 426.7L296.0 430.3L292.9 426.7Z"/><path d="M299.7 426.2L302.8 429.8L299.7 433.4L296.7 429.8Z"/><path d="M303.4 431.8L306.5 435.4L303.4 439.0L300.4 435.4Z"/><path d="M307.2 434.4L310.2 438.0L307.2 441.6L304.1 438.0Z"/><path d="M310.9 437.5L314.0 441.1L310.9 444.7L307.8 441.1Z"/><path d="M316.0 442.5L319.1 446.1L316.0 449.7L312.9 446.1Z"/></g>
<polyline points="65.3,514.6 68.5,519.0 72.2,524.2 76.0,527.8 79.7,530.8 83.4,533.8 87.2,536.4 90.9,539.1 94.6,541.4 98.3,542.3 102.1,543.2 105.8,544.1 109.5,543.9 113.3,543.6 117.0,543.3 120.7,542.6 124.5,541.7 128.2,540.7 131.9,539.6 135.6,538.0 139.4,536.5 143.1,534.9 146.8,532.3 150.6,529.7 154.3,526.6 158.0,522.4 161.7,517.9 165.5,511.0 169.2,503.9 172.9,496.4 176.7,487.5 180.4,480.0 184.1,473.2 187.8,467.9 191.6,463.7 195.3,461.4 199.0,461.0 202.8,460.7 206.5,460.0 210.2,459.3 213.9,459.4 217.7,459.7 221.4,460.3 225.1,464.1 228.9,470.3 232.6,472.8 236.3,472.5 240.1,471.0 243.8,467.8 247.5,463.4 251.2,457.3 255.0,450.4 258.7,442.9 262.4,437.2 266.2,432.6 269.9,429.3 273.6,427.6 277.3,426.8 281.1,427.6 284.8,428.7 288.5,430.9 292.3,433.3 296.0,436.3 299.7,439.3 303.4,442.3 307.2,445.2 310.9,448.1 314.7,453.2" fill="none" stroke="#00ff00" stroke-width="1.3" stroke-linejoin="round"/>
<g fill="#00ff00" shape-rendering="crispEdges"><path d="M65.3 517.4L68.7 511.5L61.9 511.5Z"/><path d="M68.5 521.6L71.9 515.6L65.1 515.6Z"/><path d="M72.2 527.2L75.6 521.3L68.8 521.3Z"/><path d="M76.0 531.0L79.4 525.0L72.6 525.0Z"/><path d="M79.7 535.0L83.1 529.1L76.3 529.1Z"/><path d="M83.4 536.5L86.8 530.6L80.0 530.6Z"/><path d="M87.2 540.7L90.6 534.7L83.8 534.7Z"/><path d="M90.9 541.9L94.3 536.0L87.5 536.0Z"/><path d="M94.6 544.5L98.0 538.6L91.2 538.6Z"/><path d="M98.3 546.3L101.7 540.3L94.9 540.3Z"/><path d="M102.1 547.2L105.5 541.2L98.7 541.2Z"/><path d="M105.8 547.4L109.2 541.5L102.4 541.5Z"/><path d="M109.5 546.5L112.9 540.6L106.1 540.6Z"/><path d="M113.3 547.0L116.7 541.0L109.9 541.0Z"/><path d="M117.0 546.5L120.4 540.5L113.6 540.5Z"/><path d="M120.7 546.8L124.1 540.8L117.3 540.8Z"/><path d="M124.5 544.5L127.9 538.6L121.1 538.6Z"/><path d="M128.2 543.9L131.6 537.9L124.8 537.9Z"/><path d="M131.9 543.7L135.3 537.8L128.5 537.8Z"/><path d="M135.6 540.6L139.0 534.6L132.2 534.6Z"/><path d="M139.4 539.7L142.8 533.8L136.0 533.8Z"/><path d="M143.1 538.8L146.5 532.9L139.7 532.9Z"/><path d="M146.8 536.1L150.2 530.2L143.4 530.2Z"/><path d="M150.6 532.2L154.0 526.3L147.2 526.3Z"/><path d="M154.3 529.1L157.7 523.2L150.9 523.2Z"/><path d="M158.0 525.0L161.4 519.1L154.6 519.1Z"/><path d="M161.7 522.0L165.1 516.1L158.3 516.1Z"/><path d="M165.5 513.9L168.9 508.0L162.1 508.0Z"/><path d="M169.2 507.7L172.6 501.8L165.8 501.8Z"/><path d="M172.9 500.5L176.3 494.6L169.5 494.6Z"/><path d="M176.7 490.6L180.1 484.7L173.3 484.7Z"/><path d="M180.4 483.0L183.8 477.1L177.0 477.1Z"/><path d="M184.1 477.4L187.5 471.5L180.7 471.5Z"/><path d="M187.8 471.5L191.2 465.5L184.4 465.5Z"/><path d="M191.6 466.6L195.0 460.7L188.2 460.7Z"/><path d="M195.3 465.1L198.7 459.2L191.9 459.2Z"/><path d="M199.0 464.1L202.4 458.2L195.6 458.2Z"/><path d="M202.8 463.7L206.2 457.8L199.4 457.8Z"/><path d="M206.5 462.5L209.9 456.6L203.1 456.6Z"/><path d="M210.2 463.2L213.6 457.2L206.8 457.2Z"/><path d="M213.9 463.5L217.3 457.6L210.5 457.6Z"/><path d="M217.7 463.4L221.1 457.4L214.3 457.4Z"/><path d="M221.4 464.5L224.8 458.5L218.0 458.5Z"/><path d="M225.1 466.7L228.5 460.7L221.7 460.7Z"/><path d="M228.9 473.2L232.3 467.2L225.5 467.2Z"/><path d="M232.6 476.1L236.0 470.2L229.2 470.2Z"/><path d="M236.3 476.7L239.7 470.7L232.9 470.7Z"/><path d="M240.1 475.2L243.5 469.2L236.7 469.2Z"/><path d="M243.8 471.0L247.2 465.1L240.4 465.1Z"/><path d="M247.5 466.4L250.9 460.4L244.1 460.4Z"/><path d="M251.2 460.6L254.6 454.6L247.8 454.6Z"/><path d="M255.0 453.8L258.4 447.9L251.6 447.9Z"/><path d="M258.7 447.1L262.1 441.1L255.3 441.1Z"/><path d="M262.4 440.0L265.8 434.0L259.0 434.0Z"/><path d="M266.2 436.6L269.6 430.6L262.8 430.6Z"/><path d="M269.9 433.1L273.3 427.2L266.5 427.2Z"/><path d="M273.6 431.6L277.0 425.6L270.2 425.6Z"/><path d="M277.3 430.7L280.7 424.8L273.9 424.8Z"/><path d="M281.1 431.2L284.5 425.2L277.7 425.2Z"/><path d="M284.8 431.8L288.2 425.8L281.4 425.8Z"/><path d="M288.5 434.0L291.9 428.1L285.1 428.1Z"/><path d="M292.3 436.5L295.7 430.5L288.9 430.5Z"/><path d="M296.0 440.2L299.4 434.2L292.6 434.2Z"/><path d="M299.7 441.9L303.1 436.0L296.3 436.0Z"/><path d="M303.4 445.1L306.8 439.2L300.0 439.2Z"/><path d="M307.2 449.0L310.6 443.1L303.8 443.1Z"/><path d="M310.9 451.0L314.3 445.1L307.5 445.1Z"/><path d="M314.7 455.8L318.1 449.9L311.3 449.9Z"/></g>
</g>
<path d="M53.5 345.5H333.5V576.5" fill="none" stroke="#000" stroke-width="1.2"/>
<path d="M53.5 345.0V576.5H333.5" fill="none" stroke="#000" stroke-width="1.5"/>
<path d="M50.0 576.5H53.5 M51.0 560.5H53.5 M50.0 543.5H53.5 M51.0 527.5H53.5 M50.0 510.5H53.5 M51.0 493.5H53.5 M50.0 477.5H53.5 M51.0 460.5H53.5 M50.0 444.5H53.5 M51.0 427.5H53.5 M50.0 411.5H53.5 M51.0 394.5H53.5 M50.0 378.5H53.5 M51.0 361.5H53.5 M50.0 345.5H53.5 M53.5 576.5V580.0 M90.5 576.5V580.0 M128.5 576.5V580.0 M165.5 576.5V580.0 M202.5 576.5V580.0 M240.5 576.5V580.0 M277.5 576.5V580.0 M314.5 576.5V580.0" stroke="#000" stroke-width="1.1" fill="none"/>
<text x="11.4" y="579.9" textLength="35.8" lengthAdjust="spacingAndGlyphs" class="tl">0.0E+0</text>
<text x="11.4" y="546.9" textLength="35.8" lengthAdjust="spacingAndGlyphs" class="tl">1.0E-2</text>
<text x="11.4" y="513.8" textLength="35.8" lengthAdjust="spacingAndGlyphs" class="tl">2.0E-2</text>
<text x="11.4" y="480.8" textLength="35.8" lengthAdjust="spacingAndGlyphs" class="tl">3.0E-2</text>
<text x="11.4" y="447.7" textLength="35.8" lengthAdjust="spacingAndGlyphs" class="tl">4.0E-2</text>
<text x="11.4" y="414.7" textLength="35.8" lengthAdjust="spacingAndGlyphs" class="tl">5.0E-2</text>
<text x="11.4" y="381.6" textLength="35.8" lengthAdjust="spacingAndGlyphs" class="tl">6.0E-2</text>
<text x="11.4" y="348.6" textLength="35.8" lengthAdjust="spacingAndGlyphs" class="tl">7.0E-2</text>
<text x="53.6" y="592.2" text-anchor="middle" class="tl" textLength="5.9" lengthAdjust="spacingAndGlyphs">0</text>
<text x="90.9" y="592.2" text-anchor="middle" class="tl" textLength="17.7" lengthAdjust="spacingAndGlyphs">100</text>
<text x="128.2" y="592.2" text-anchor="middle" class="tl" textLength="17.7" lengthAdjust="spacingAndGlyphs">200</text>
<text x="165.5" y="592.2" text-anchor="middle" class="tl" textLength="17.7" lengthAdjust="spacingAndGlyphs">300</text>
<text x="202.8" y="592.2" text-anchor="middle" class="tl" textLength="17.7" lengthAdjust="spacingAndGlyphs">400</text>
<text x="240.1" y="592.2" text-anchor="middle" class="tl" textLength="17.7" lengthAdjust="spacingAndGlyphs">500</text>
<text x="277.3" y="592.2" text-anchor="middle" class="tl" textLength="17.7" lengthAdjust="spacingAndGlyphs">600</text>
<text x="314.6" y="592.2" text-anchor="middle" class="tl" textLength="17.7" lengthAdjust="spacingAndGlyphs">700</text>
<text x="169.9" y="605.1" textLength="45.2" lengthAdjust="spacingAndGlyphs" class="xl" style="font-size:11.5px;font-weight:bold">Temp (°C)</text>
<text transform="translate(10.5,459.6) rotate(-90)" text-anchor="middle" class="yl" textLength="27.0" lengthAdjust="spacingAndGlyphs">tanδ</text>
<rect x="56.5" y="346.5" width="90.0" height="64.0" fill="#fff" stroke="#000" stroke-width="1.3"/>
<path d="M56.7 355.5H83.7" stroke="#000000" stroke-width="1.3"/>
<g fill="#000000"><circle cx="70.9" cy="355.6" r="2.80"/></g>
<text x="90.1" y="359.9" textLength="13.4" lengthAdjust="spacingAndGlyphs" class="lg" style="font-size:13.75px">50</text>
<text x="111.1" y="359.9" textLength="5.9" lengthAdjust="spacingAndGlyphs" class="lg" style="font-size:13.75px">k</text>
<text x="123.7" y="359.9" textLength="14.3" lengthAdjust="spacingAndGlyphs" class="lg" style="font-size:13.75px">Hz</text>
<path d="M56.7 370.5H83.7" stroke="#ff0000" stroke-width="1.3"/>
<g fill="#ff0000"><path d="M70.9 367.4L74.3 373.4L67.5 373.4Z"/></g>
<text x="90.1" y="375.1" textLength="19.2" lengthAdjust="spacingAndGlyphs" class="lg" style="font-size:13.75px">100</text>
<text x="116.5" y="375.1" textLength="6.5" lengthAdjust="spacingAndGlyphs" class="lg" style="font-size:13.75px">k</text>
<text x="129.4" y="375.1" textLength="13.7" lengthAdjust="spacingAndGlyphs" class="lg" style="font-size:13.75px">Hz</text>
<path d="M56.7 386.5H83.7" stroke="#0000ff" stroke-width="1.3"/>
<g fill="#0000ff"><path d="M70.9 383.3L74.0 386.9L70.9 390.5L67.8 386.9Z"/></g>
<text x="90.1" y="391.1" textLength="19.2" lengthAdjust="spacingAndGlyphs" class="lg" style="font-size:13.75px">500</text>
<text x="116.5" y="391.1" textLength="6.5" lengthAdjust="spacingAndGlyphs" class="lg" style="font-size:13.75px">k</text>
<text x="129.4" y="391.1" textLength="13.7" lengthAdjust="spacingAndGlyphs" class="lg" style="font-size:13.75px">Hz</text>
<path d="M56.7 402.5H83.7" stroke="#00ff00" stroke-width="1.3"/>
<g fill="#00ff00"><path d="M70.9 405.5L74.3 399.6L67.5 399.6Z"/></g>
<text x="90.1" y="406.4" textLength="6.0" lengthAdjust="spacingAndGlyphs" class="lg" style="font-size:13.75px">1</text>
<text x="102.9" y="406.4" textLength="7.7" lengthAdjust="spacingAndGlyphs" class="lg" style="font-size:13.75px">M</text>
<text x="118.3" y="406.4" textLength="12.0" lengthAdjust="spacingAndGlyphs" class="lg" style="font-size:13.75px">Hz</text>
<text x="123.1" y="649.2" textLength="121.4" lengthAdjust="spacingAndGlyphs" class="cap">(3) Rock type R3</text>
<clipPath id="c4"><rect x="397.0" y="341.5" width="282.6" height="233.79999999999995"/></clipPath>
<g clip-path="url(#c4)">
<polyline points="407.9,436.6 411.9,446.0 415.7,457.4 419.5,469.8 423.3,478.3 427.0,483.7 430.8,488.4 434.6,495.4 438.4,503.6 442.2,510.9 445.9,509.3 449.7,507.3 453.5,504.9 457.3,503.0 461.1,501.3 464.8,499.2 468.6,496.6 472.4,493.7 476.2,490.4 480.0,485.2 483.7,478.9 487.5,472.7 491.3,465.3 495.1,457.7 498.9,450.9 502.6,446.1 506.4,438.6 510.2,429.6 514.0,419.4 517.8,404.3 521.5,396.6 525.3,386.8 529.1,379.1 532.9,374.9 536.7,372.5 540.4,371.5 544.2,372.3 548.0,372.7 551.8,372.3 555.6,372.1 559.3,372.5 563.1,372.6 566.9,370.1 570.7,372.7 574.5,374.0 578.2,373.0 582.0,374.9 585.8,377.5 589.6,379.3 593.4,379.4 597.1,379.4 600.9,378.6 604.7,377.7 608.5,376.1 612.3,374.2 616.0,371.5 619.8,368.5 623.6,364.4 627.4,361.0 631.2,364.2 634.9,363.8 638.7,364.2 642.5,365.0 646.3,364.6 650.1,364.3 653.8,364.3 657.6,364.3 662.3,364.3" fill="none" stroke="#000000" stroke-width="1.3" stroke-linejoin="round"/>
<g fill="#000000" shape-rendering="crispEdges"><circle cx="407.9" cy="435.8" r="2.80"/><circle cx="411.9" cy="446.0" r="2.80"/><circle cx="415.7" cy="457.1" r="2.80"/><circle cx="419.5" cy="470.6" r="2.80"/><circle cx="423.3" cy="479.0" r="2.80"/><circle cx="427.0" cy="484.5" r="2.80"/><circle cx="430.8" cy="487.9" r="2.80"/><circle cx="434.6" cy="494.7" r="2.80"/><circle cx="438.4" cy="502.9" r="2.80"/><circle cx="442.2" cy="510.9" r="2.80"/><circle cx="445.9" cy="509.7" r="2.80"/><circle cx="449.7" cy="507.2" r="2.80"/><circle cx="453.5" cy="504.4" r="2.80"/><circle cx="457.3" cy="502.9" r="2.80"/><circle cx="461.1" cy="501.5" r="2.80"/><circle cx="464.8" cy="499.5" r="2.80"/><circle cx="468.6" cy="497.1" r="2.80"/><circle cx="472.4" cy="494.4" r="2.80"/><circle cx="476.2" cy="490.7" r="2.80"/><circle cx="480.0" cy="484.5" r="2.80"/><circle cx="483.7" cy="479.5" r="2.80"/><circle cx="487.5" cy="472.3" r="2.80"/><circle cx="491.3" cy="465.4" r="2.80"/><circle cx="495.1" cy="457.5" r="2.80"/><circle cx="498.9" cy="451.4" r="2.80"/><circle cx="502.6" cy="445.6" r="2.80"/><circle cx="506.4" cy="438.2" r="2.80"/><circle cx="510.2" cy="429.2" r="2.80"/><circle cx="514.0" cy="418.8" r="2.80"/><circle cx="517.8" cy="405.0" r="2.80"/><circle cx="521.5" cy="396.7" r="2.80"/><circle cx="525.3" cy="386.5" r="2.80"/><circle cx="529.1" cy="379.0" r="2.80"/><circle cx="532.9" cy="375.8" r="2.80"/><circle cx="536.7" cy="372.5" r="2.80"/><circle cx="540.4" cy="371.1" r="2.80"/><circle cx="544.2" cy="372.8" r="2.80"/><circle cx="548.0" cy="373.0" r="2.80"/><circle cx="551.8" cy="373.2" r="2.80"/><circle cx="555.6" cy="371.4" r="2.80"/><circle cx="559.3" cy="372.4" r="2.80"/><circle cx="563.1" cy="373.2" r="2.80"/><circle cx="566.9" cy="370.7" r="2.80"/><circle cx="570.7" cy="373.5" r="2.80"/><circle cx="574.5" cy="373.1" r="2.80"/><circle cx="578.2" cy="372.6" r="2.80"/><circle cx="582.0" cy="374.3" r="2.80"/><circle cx="585.8" cy="376.9" r="2.80"/><circle cx="589.6" cy="380.2" r="2.80"/><circle cx="593.4" cy="379.5" r="2.80"/><circle cx="597.1" cy="380.2" r="2.80"/><circle cx="600.9" cy="378.4" r="2.80"/><circle cx="604.7" cy="378.3" r="2.80"/><circle cx="608.5" cy="376.0" r="2.80"/><circle cx="612.3" cy="373.7" r="2.80"/><circle cx="616.0" cy="372.0" r="2.80"/><circle cx="619.8" cy="369.3" r="2.80"/><circle cx="623.6" cy="363.7" r="2.80"/><circle cx="627.4" cy="361.2" r="2.80"/><circle cx="631.2" cy="364.5" r="2.80"/><circle cx="634.9" cy="363.3" r="2.80"/><circle cx="638.7" cy="364.0" r="2.80"/><circle cx="642.5" cy="364.3" r="2.80"/><circle cx="646.3" cy="364.1" r="2.80"/><circle cx="650.1" cy="363.9" r="2.80"/><circle cx="653.8" cy="364.5" r="2.80"/><circle cx="657.6" cy="364.6" r="2.80"/><circle cx="662.3" cy="363.8" r="2.80"/></g>
<polyline points="406.6,442.8 411.9,460.8 415.7,475.5 419.5,487.0 423.3,492.7 427.0,499.9 430.8,508.4 434.6,517.1 438.4,523.1 442.2,522.2 445.9,520.3 449.7,517.3 453.5,514.4 457.3,512.5 461.1,510.6 464.8,508.7 468.6,506.8 472.4,504.9 476.2,502.5 480.0,499.7 483.7,495.9 487.5,491.6 491.3,485.4 495.1,478.0 498.9,467.6 502.6,459.5 506.4,456.5 510.2,447.9 514.0,436.7 517.8,429.2 521.5,419.5 525.3,413.9 529.1,407.8 532.9,402.2 536.7,399.3 540.4,397.2 544.2,396.1 548.0,394.4 551.8,391.6 555.6,389.3 559.3,387.4 563.1,385.5 566.9,383.8 570.7,382.5 574.5,388.9 578.2,388.9 582.0,385.8 585.8,384.1 589.6,384.1 593.4,384.9 597.1,385.8 600.9,385.7 604.7,385.4 608.5,384.9 612.3,384.2 616.0,383.3 619.8,382.1 623.6,379.0 627.4,376.1 631.2,373.4 634.9,371.1 638.7,368.9 642.5,366.9 646.3,365.1 650.1,363.4 653.8,361.8 657.6,360.5 662.9,359.1" fill="none" stroke="#ff0000" stroke-width="1.3" stroke-linejoin="round"/>
<g fill="#ff0000" shape-rendering="crispEdges"><path d="M406.6 438.5L410.0 444.5L403.2 444.5Z"/><path d="M411.9 457.1L415.3 463.1L408.5 463.1Z"/><path d="M415.7 472.4L419.1 478.4L412.3 478.4Z"/><path d="M419.5 483.1L422.9 489.0L416.1 489.0Z"/><path d="M423.3 489.0L426.7 494.9L419.9 494.9Z"/><path d="M427.0 496.0L430.4 501.9L423.6 501.9Z"/><path d="M430.8 505.6L434.2 511.5L427.4 511.5Z"/><path d="M434.6 513.8L438.0 519.8L431.2 519.8Z"/><path d="M438.4 518.9L441.8 524.9L435.0 524.9Z"/><path d="M442.2 518.0L445.6 524.0L438.8 524.0Z"/><path d="M445.9 516.7L449.3 522.7L442.5 522.7Z"/><path d="M449.7 514.0L453.1 519.9L446.3 519.9Z"/><path d="M453.5 511.2L456.9 517.2L450.1 517.2Z"/><path d="M457.3 508.4L460.7 514.3L453.9 514.3Z"/><path d="M461.1 506.6L464.5 512.5L457.7 512.5Z"/><path d="M464.8 505.6L468.2 511.6L461.4 511.6Z"/><path d="M468.6 503.3L472.0 509.2L465.2 509.2Z"/><path d="M472.4 501.2L475.8 507.1L469.0 507.1Z"/><path d="M476.2 498.8L479.6 504.7L472.8 504.7Z"/><path d="M480.0 497.1L483.4 503.0L476.6 503.0Z"/><path d="M483.7 492.1L487.1 498.1L480.3 498.1Z"/><path d="M487.5 488.4L490.9 494.3L484.1 494.3Z"/><path d="M491.3 481.8L494.7 487.7L487.9 487.7Z"/><path d="M495.1 474.4L498.5 480.4L491.7 480.4Z"/><path d="M498.9 464.9L502.3 470.8L495.5 470.8Z"/><path d="M502.6 457.0L506.0 463.0L499.2 463.0Z"/><path d="M506.4 452.9L509.8 458.8L503.0 458.8Z"/><path d="M510.2 444.0L513.6 449.9L506.8 449.9Z"/><path d="M514.0 433.8L517.4 439.7L510.6 439.7Z"/><path d="M517.8 425.2L521.2 431.2L514.4 431.2Z"/><path d="M521.5 415.3L524.9 421.2L518.1 421.2Z"/><path d="M525.3 411.2L528.7 417.1L521.9 417.1Z"/><path d="M529.1 404.3L532.5 410.2L525.7 410.2Z"/><path d="M532.9 399.3L536.3 405.3L529.5 405.3Z"/><path d="M536.7 395.7L540.1 401.6L533.3 401.6Z"/><path d="M540.4 394.5L543.8 400.4L537.0 400.4Z"/><path d="M544.2 392.6L547.6 398.5L540.8 398.5Z"/><path d="M548.0 390.4L551.4 396.3L544.6 396.3Z"/><path d="M551.8 387.3L555.2 393.2L548.4 393.2Z"/><path d="M555.6 386.0L559.0 392.0L552.2 392.0Z"/><path d="M559.3 384.3L562.7 390.2L555.9 390.2Z"/><path d="M563.1 382.9L566.5 388.8L559.7 388.8Z"/><path d="M566.9 379.7L570.3 385.6L563.5 385.6Z"/><path d="M570.7 379.4L574.1 385.3L567.3 385.3Z"/><path d="M574.5 385.3L577.9 391.2L571.1 391.2Z"/><path d="M578.2 385.5L581.6 391.5L574.8 391.5Z"/><path d="M582.0 381.7L585.4 387.7L578.6 387.7Z"/><path d="M585.8 380.3L589.2 386.3L582.4 386.3Z"/><path d="M589.6 380.7L593.0 386.7L586.2 386.7Z"/><path d="M593.4 382.3L596.8 388.2L590.0 388.2Z"/><path d="M597.1 381.7L600.5 387.7L593.7 387.7Z"/><path d="M600.9 382.3L604.3 388.3L597.5 388.3Z"/><path d="M604.7 382.5L608.1 388.5L601.3 388.5Z"/><path d="M608.5 382.3L611.9 388.2L605.1 388.2Z"/><path d="M612.3 380.3L615.7 386.2L608.9 386.2Z"/><path d="M616.0 379.2L619.4 385.1L612.6 385.1Z"/><path d="M619.8 379.5L623.2 385.5L616.4 385.5Z"/><path d="M623.6 376.5L627.0 382.5L620.2 382.5Z"/><path d="M627.4 372.6L630.8 378.6L624.0 378.6Z"/><path d="M631.2 369.2L634.6 375.1L627.8 375.1Z"/><path d="M634.9 368.5L638.3 374.4L631.5 374.4Z"/><path d="M638.7 365.3L642.1 371.2L635.3 371.2Z"/><path d="M642.5 364.2L645.9 370.2L639.1 370.2Z"/><path d="M646.3 361.9L649.7 367.8L642.9 367.8Z"/><path d="M650.1 360.5L653.5 366.5L646.7 366.5Z"/><path d="M653.8 357.8L657.2 363.7L650.4 363.7Z"/><path d="M657.6 357.6L661.0 363.6L654.2 363.6Z"/><path d="M662.9 355.2L666.3 361.1L659.5 361.1Z"/></g>
<polyline points="407.9,441.9 411.9,455.5 415.7,476.0 419.5,487.1 423.3,494.9 427.0,501.5 430.8,512.4 434.6,526.8 438.4,532.2 442.2,534.6 445.9,533.9 449.7,533.0 453.5,532.0 457.3,531.4 461.1,530.8 464.8,530.3 468.6,530.0 472.4,529.6 476.2,528.9 480.0,527.7 483.7,526.2 487.5,523.4 491.3,520.2 495.1,516.4 498.9,512.6 502.6,508.9 506.4,501.4 510.2,490.4 514.0,479.5 517.8,470.9 521.5,463.5 525.3,456.0 529.1,449.1 532.9,448.3 536.7,447.6 540.4,448.2 544.2,448.9 548.0,448.0 551.8,446.5 555.6,445.2 559.3,444.1 563.1,440.3 566.9,435.2 570.7,433.9 574.5,426.9 578.2,421.9 582.0,412.4 585.8,405.5 589.6,398.0 593.4,392.5 597.1,389.5 600.9,388.8 604.7,388.6 608.5,388.6 612.3,387.0 616.0,385.4 619.8,385.6 623.6,385.9 627.4,386.2 631.2,386.5 634.9,386.0 638.7,384.5 642.5,381.7 646.3,378.9 650.1,377.0 653.8,375.9 657.6,375.6 661.4,377.0 663.6,378.1" fill="none" stroke="#0000ff" stroke-width="1.3" stroke-linejoin="round"/>
<g fill="#0000ff" shape-rendering="crispEdges"><path d="M407.9 438.1L411.0 441.7L407.9 445.3L404.8 441.7Z"/><path d="M411.9 452.5L415.0 456.1L411.9 459.7L408.9 456.1Z"/><path d="M415.7 473.0L418.8 476.6L415.7 480.2L412.6 476.6Z"/><path d="M419.5 482.9L422.5 486.5L419.5 490.1L416.4 486.5Z"/><path d="M423.3 490.8L426.3 494.4L423.3 498.0L420.2 494.4Z"/><path d="M427.0 497.8L430.1 501.4L427.0 505.0L424.0 501.4Z"/><path d="M430.8 508.9L433.9 512.5L430.8 516.1L427.8 512.5Z"/><path d="M434.6 523.0L437.7 526.6L434.6 530.2L431.5 526.6Z"/><path d="M438.4 527.9L441.4 531.5L438.4 535.1L435.3 531.5Z"/><path d="M442.2 530.5L445.2 534.1L442.2 537.7L439.1 534.1Z"/><path d="M445.9 530.7L449.0 534.3L445.9 537.9L442.9 534.3Z"/><path d="M449.7 530.1L452.8 533.7L449.7 537.3L446.7 533.7Z"/><path d="M453.5 527.6L456.6 531.2L453.5 534.8L450.4 531.2Z"/><path d="M457.3 527.9L460.3 531.5L457.3 535.1L454.2 531.5Z"/><path d="M461.1 527.7L464.1 531.3L461.1 534.9L458.0 531.3Z"/><path d="M464.8 525.9L467.9 529.5L464.8 533.1L461.8 529.5Z"/><path d="M468.6 527.0L471.7 530.6L468.6 534.2L465.6 530.6Z"/><path d="M472.4 525.4L475.5 529.0L472.4 532.6L469.3 529.0Z"/><path d="M476.2 525.5L479.2 529.1L476.2 532.7L473.1 529.1Z"/><path d="M480.0 524.2L483.0 527.8L480.0 531.4L476.9 527.8Z"/><path d="M483.7 522.8L486.8 526.4L483.7 530.0L480.7 526.4Z"/><path d="M487.5 519.4L490.6 523.0L487.5 526.6L484.5 523.0Z"/><path d="M491.3 516.5L494.4 520.1L491.3 523.7L488.2 520.1Z"/><path d="M495.1 513.0L498.1 516.6L495.1 520.2L492.0 516.6Z"/><path d="M498.9 508.9L501.9 512.5L498.9 516.1L495.8 512.5Z"/><path d="M502.6 505.5L505.7 509.1L502.6 512.7L499.6 509.1Z"/><path d="M506.4 497.8L509.5 501.4L506.4 505.0L503.4 501.4Z"/><path d="M510.2 486.7L513.3 490.3L510.2 493.9L507.1 490.3Z"/><path d="M514.0 475.1L517.0 478.7L514.0 482.3L510.9 478.7Z"/><path d="M517.8 467.5L520.8 471.1L517.8 474.7L514.7 471.1Z"/><path d="M521.5 459.9L524.6 463.5L521.5 467.1L518.5 463.5Z"/><path d="M525.3 451.9L528.4 455.5L525.3 459.1L522.3 455.5Z"/><path d="M529.1 446.0L532.2 449.6L529.1 453.2L526.0 449.6Z"/><path d="M532.9 445.2L535.9 448.8L532.9 452.4L529.8 448.8Z"/><path d="M536.7 443.9L539.7 447.5L536.7 451.1L533.6 447.5Z"/><path d="M540.4 444.0L543.5 447.6L540.4 451.2L537.4 447.6Z"/><path d="M544.2 445.3L547.3 448.9L544.2 452.5L541.2 448.9Z"/><path d="M548.0 443.6L551.1 447.2L548.0 450.8L544.9 447.2Z"/><path d="M551.8 442.2L554.8 445.8L551.8 449.4L548.7 445.8Z"/><path d="M555.6 441.5L558.6 445.1L555.6 448.7L552.5 445.1Z"/><path d="M559.3 439.7L562.4 443.3L559.3 446.9L556.3 443.3Z"/><path d="M563.1 436.6L566.2 440.2L563.1 443.8L560.1 440.2Z"/><path d="M566.9 431.6L570.0 435.2L566.9 438.8L563.8 435.2Z"/><path d="M570.7 429.5L573.7 433.1L570.7 436.7L567.6 433.1Z"/><path d="M574.5 423.6L577.5 427.2L574.5 430.8L571.4 427.2Z"/><path d="M578.2 417.5L581.3 421.1L578.2 424.7L575.2 421.1Z"/><path d="M582.0 409.2L585.1 412.8L582.0 416.4L579.0 412.8Z"/><path d="M585.8 402.4L588.9 406.0L585.8 409.6L582.7 406.0Z"/><path d="M589.6 394.4L592.6 398.0L589.6 401.6L586.5 398.0Z"/><path d="M593.4 388.1L596.4 391.7L593.4 395.3L590.3 391.7Z"/><path d="M597.1 385.9L600.2 389.5L597.1 393.1L594.1 389.5Z"/><path d="M600.9 385.0L604.0 388.6L600.9 392.2L597.9 388.6Z"/><path d="M604.7 385.8L607.8 389.4L604.7 393.0L601.6 389.4Z"/><path d="M608.5 384.3L611.5 387.9L608.5 391.5L605.4 387.9Z"/><path d="M612.3 384.0L615.3 387.6L612.3 391.2L609.2 387.6Z"/><path d="M616.0 382.7L619.1 386.3L616.0 389.9L613.0 386.3Z"/><path d="M619.8 382.4L622.9 386.0L619.8 389.6L616.8 386.0Z"/><path d="M623.6 382.9L626.7 386.5L623.6 390.1L620.5 386.5Z"/><path d="M627.4 382.1L630.4 385.7L627.4 389.3L624.3 385.7Z"/><path d="M631.2 383.7L634.2 387.3L631.2 390.9L628.1 387.3Z"/><path d="M634.9 382.4L638.0 386.0L634.9 389.6L631.9 386.0Z"/><path d="M638.7 381.7L641.8 385.3L638.7 388.9L635.7 385.3Z"/><path d="M642.5 378.9L645.6 382.5L642.5 386.1L639.4 382.5Z"/><path d="M646.3 374.7L649.3 378.3L646.3 381.9L643.2 378.3Z"/><path d="M650.1 373.9L653.1 377.5L650.1 381.1L647.0 377.5Z"/><path d="M653.8 373.1L656.9 376.7L653.8 380.3L650.8 376.7Z"/><path d="M657.6 371.2L660.7 374.8L657.6 378.4L654.6 374.8Z"/><path d="M661.4 373.2L664.5 376.8L661.4 380.4L658.3 376.8Z"/><path d="M663.6 375.0L666.7 378.6L663.6 382.2L660.5 378.6Z"/></g>
<polyline points="406.6,448.9 411.9,471.0 415.7,485.8 419.5,497.8 423.3,507.0 427.0,516.5 430.8,526.8 434.6,538.8 438.4,549.5 442.2,547.3 445.9,544.5 449.7,540.9 453.5,540.5 457.3,540.1 461.1,539.7 464.8,539.3 468.6,539.0 472.4,538.6 476.2,538.1 480.0,536.6 483.7,535.1 487.5,533.0 491.3,530.8 495.1,527.6 498.9,523.5 502.6,519.2 506.4,514.5 510.2,508.5 514.0,499.6 517.8,489.5 521.5,479.3 525.3,471.4 529.1,466.0 532.9,462.2 536.7,459.7 540.4,460.1 544.2,460.3 548.0,459.7 551.8,459.0 555.6,458.8 559.3,458.8 563.1,458.7 566.9,457.8 570.7,456.8 574.5,454.1 578.2,449.6 582.0,440.5 585.8,434.5 589.6,426.9 593.4,419.6 597.1,413.4 600.9,406.1 604.7,400.0 608.5,396.4 612.3,391.6 616.0,389.9 619.8,389.9 623.6,389.4 627.4,388.5 631.2,388.6 634.9,389.8 638.7,390.4 642.5,389.7 646.3,389.0 650.1,388.1 653.8,387.0 657.6,385.6 661.4,386.1 663.6,386.6" fill="none" stroke="#00ff00" stroke-width="1.3" stroke-linejoin="round"/>
<g fill="#00ff00" shape-rendering="crispEdges"><path d="M406.6 451.7L410.0 445.7L403.2 445.7Z"/><path d="M411.9 475.1L415.3 469.1L408.5 469.1Z"/><path d="M415.7 488.7L419.1 482.8L412.3 482.8Z"/><path d="M419.5 501.7L422.9 495.8L416.1 495.8Z"/><path d="M423.3 509.7L426.7 503.8L419.9 503.8Z"/><path d="M427.0 519.9L430.4 513.9L423.6 513.9Z"/><path d="M430.8 530.9L434.2 525.0L427.4 525.0Z"/><path d="M434.6 541.7L438.0 535.7L431.2 535.7Z"/><path d="M438.4 552.5L441.8 546.5L435.0 546.5Z"/><path d="M442.2 550.7L445.6 544.8L438.8 544.8Z"/><path d="M445.9 547.6L449.3 541.6L442.5 541.6Z"/><path d="M449.7 543.5L453.1 537.5L446.3 537.5Z"/><path d="M453.5 543.3L456.9 537.4L450.1 537.4Z"/><path d="M457.3 542.9L460.7 536.9L453.9 536.9Z"/><path d="M461.1 543.9L464.5 538.0L457.7 538.0Z"/><path d="M464.8 543.1L468.2 537.1L461.4 537.1Z"/><path d="M468.6 543.1L472.0 537.1L465.2 537.1Z"/><path d="M472.4 541.4L475.8 535.5L469.0 535.5Z"/><path d="M476.2 542.1L479.6 536.1L472.8 536.1Z"/><path d="M480.0 539.4L483.4 533.4L476.6 533.4Z"/><path d="M483.7 538.6L487.1 532.6L480.3 532.6Z"/><path d="M487.5 536.7L490.9 530.7L484.1 530.7Z"/><path d="M491.3 533.9L494.7 528.0L487.9 528.0Z"/><path d="M495.1 531.7L498.5 525.8L491.7 525.8Z"/><path d="M498.9 527.0L502.3 521.0L495.5 521.0Z"/><path d="M502.6 522.8L506.0 516.8L499.2 516.8Z"/><path d="M506.4 518.6L509.8 512.6L503.0 512.6Z"/><path d="M510.2 511.2L513.6 505.2L506.8 505.2Z"/><path d="M514.0 503.9L517.4 497.9L510.6 497.9Z"/><path d="M517.8 493.1L521.2 487.2L514.4 487.2Z"/><path d="M521.5 482.5L524.9 476.5L518.1 476.5Z"/><path d="M525.3 475.3L528.7 469.4L521.9 469.4Z"/><path d="M529.1 469.0L532.5 463.0L525.7 463.0Z"/><path d="M532.9 466.5L536.3 460.6L529.5 460.6Z"/><path d="M536.7 463.3L540.1 457.3L533.3 457.3Z"/><path d="M540.4 463.2L543.8 457.3L537.0 457.3Z"/><path d="M544.2 464.2L547.6 458.2L540.8 458.2Z"/><path d="M548.0 463.0L551.4 457.0L544.6 457.0Z"/><path d="M551.8 461.9L555.2 455.9L548.4 455.9Z"/><path d="M555.6 462.6L559.0 456.7L552.2 456.7Z"/><path d="M559.3 461.4L562.7 455.4L555.9 455.4Z"/><path d="M563.1 462.7L566.5 456.7L559.7 456.7Z"/><path d="M566.9 460.7L570.3 454.8L563.5 454.8Z"/><path d="M570.7 460.5L574.1 454.5L567.3 454.5Z"/><path d="M574.5 458.3L577.9 452.4L571.1 452.4Z"/><path d="M578.2 453.1L581.6 447.2L574.8 447.2Z"/><path d="M582.0 444.2L585.4 438.2L578.6 438.2Z"/><path d="M585.8 437.6L589.2 431.6L582.4 431.6Z"/><path d="M589.6 429.4L593.0 423.5L586.2 423.5Z"/><path d="M593.4 422.2L596.8 416.2L590.0 416.2Z"/><path d="M597.1 416.1L600.5 410.2L593.7 410.2Z"/><path d="M600.9 409.7L604.3 403.7L597.5 403.7Z"/><path d="M604.7 403.3L608.1 397.3L601.3 397.3Z"/><path d="M608.5 399.8L611.9 393.9L605.1 393.9Z"/><path d="M612.3 395.7L615.7 389.8L608.9 389.8Z"/><path d="M616.0 392.6L619.4 386.7L612.6 386.7Z"/><path d="M619.8 392.8L623.2 386.9L616.4 386.9Z"/><path d="M623.6 393.1L627.0 387.1L620.2 387.1Z"/><path d="M627.4 391.0L630.8 385.1L624.0 385.1Z"/><path d="M631.2 391.1L634.6 385.1L627.8 385.1Z"/><path d="M634.9 393.0L638.3 387.0L631.5 387.0Z"/><path d="M638.7 393.1L642.1 387.1L635.3 387.1Z"/><path d="M642.5 392.9L645.9 386.9L639.1 386.9Z"/><path d="M646.3 391.9L649.7 386.0L642.9 386.0Z"/><path d="M650.1 391.6L653.5 385.7L646.7 385.7Z"/><path d="M653.8 390.6L657.2 384.6L650.4 384.6Z"/><path d="M657.6 388.4L661.0 382.5L654.2 382.5Z"/><path d="M661.4 389.7L664.8 383.7L658.0 383.7Z"/><path d="M663.6 390.0L667.0 384.0L660.2 384.0Z"/></g>
</g>
<path d="M397.5 341.5H679.5V575.5" fill="none" stroke="#000" stroke-width="1.2"/>
<path d="M397.5 341.0V575.5H679.5" fill="none" stroke="#000" stroke-width="1.5"/>
<path d="M394.0 575.5H397.5 M395.0 546.5H397.5 M394.0 516.5H397.5 M395.0 487.5H397.5 M394.0 458.5H397.5 M395.0 429.5H397.5 M394.0 399.5H397.5 M395.0 370.5H397.5 M394.0 341.5H397.5 M396.5 575.5V579.0 M415.5 575.5V578.0 M434.5 575.5V579.0 M453.5 575.5V578.0 M472.5 575.5V579.0 M491.5 575.5V578.0 M510.5 575.5V579.0 M529.5 575.5V578.0 M548.5 575.5V579.0 M566.5 575.5V578.0 M585.5 575.5V579.0 M604.5 575.5V578.0 M623.5 575.5V579.0 M642.5 575.5V578.0 M661.5 575.5V579.0" stroke="#000" stroke-width="1.1" fill="none"/>
<text x="354.2" y="578.6" textLength="36.6" lengthAdjust="spacingAndGlyphs" class="tl">0.0E+0</text>
<text x="354.2" y="520.1" textLength="36.6" lengthAdjust="spacingAndGlyphs" class="tl">5.0E-3</text>
<text x="354.2" y="461.7" textLength="36.6" lengthAdjust="spacingAndGlyphs" class="tl">1.0E-2</text>
<text x="354.2" y="403.2" textLength="36.6" lengthAdjust="spacingAndGlyphs" class="tl">1.5E-2</text>
<text x="354.2" y="344.8" textLength="36.6" lengthAdjust="spacingAndGlyphs" class="tl">2.0E-2</text>
<text x="396.8" y="591.9" text-anchor="middle" class="tl" textLength="5.9" lengthAdjust="spacingAndGlyphs">0</text>
<text x="434.6" y="591.9" text-anchor="middle" class="tl" textLength="17.7" lengthAdjust="spacingAndGlyphs">100</text>
<text x="472.4" y="591.9" text-anchor="middle" class="tl" textLength="17.7" lengthAdjust="spacingAndGlyphs">200</text>
<text x="510.2" y="591.9" text-anchor="middle" class="tl" textLength="17.7" lengthAdjust="spacingAndGlyphs">300</text>
<text x="548.0" y="591.9" text-anchor="middle" class="tl" textLength="17.7" lengthAdjust="spacingAndGlyphs">400</text>
<text x="585.8" y="591.9" text-anchor="middle" class="tl" textLength="17.7" lengthAdjust="spacingAndGlyphs">500</text>
<text x="623.6" y="591.9" text-anchor="middle" class="tl" textLength="17.7" lengthAdjust="spacingAndGlyphs">600</text>
<text x="661.4" y="591.9" text-anchor="middle" class="tl" textLength="17.7" lengthAdjust="spacingAndGlyphs">700</text>
<text x="514.9" y="605.2" textLength="45.2" lengthAdjust="spacingAndGlyphs" class="xl" style="font-size:11.5px;font-weight:bold">T emp(°C)</text>
<text transform="translate(353.7,458.8) rotate(-90)" text-anchor="middle" class="yl" textLength="28.0" lengthAdjust="spacingAndGlyphs">tanδ</text>
<rect x="399.5" y="342.5" width="87.0" height="62.0" fill="#fff" stroke="#000" stroke-width="1.3"/>
<path d="M401.3 351.5H426" stroke="#000000" stroke-width="1.3"/>
<g fill="#000000"><circle cx="413.4" cy="351.0" r="2.80"/></g>
<text x="433.0" y="355.2" textLength="12.8" lengthAdjust="spacingAndGlyphs" class="lg" style="font-size:13.75px">50</text>
<text x="453.0" y="355.2" textLength="5.6" lengthAdjust="spacingAndGlyphs" class="lg" style="font-size:13.75px">k</text>
<text x="465.1" y="355.2" textLength="13.6" lengthAdjust="spacingAndGlyphs" class="lg" style="font-size:13.75px">Hz</text>
<path d="M401.3 366.5H426" stroke="#ff0000" stroke-width="1.3"/>
<g fill="#ff0000"><path d="M413.4 362.9L416.8 368.9L410.0 368.9Z"/></g>
<text x="433.0" y="370.6" textLength="19.0" lengthAdjust="spacingAndGlyphs" class="lg" style="font-size:13.75px">100</text>
<text x="459.2" y="370.6" textLength="6.4" lengthAdjust="spacingAndGlyphs" class="lg" style="font-size:13.75px">k</text>
<text x="471.9" y="370.6" textLength="13.6" lengthAdjust="spacingAndGlyphs" class="lg" style="font-size:13.75px">Hz</text>
<path d="M401.3 382.5H426" stroke="#0000ff" stroke-width="1.3"/>
<g fill="#0000ff"><path d="M413.4 378.4L416.5 382.0L413.4 385.6L410.3 382.0Z"/></g>
<text x="433.0" y="386.2" textLength="19.0" lengthAdjust="spacingAndGlyphs" class="lg" style="font-size:13.75px">500</text>
<text x="459.2" y="386.2" textLength="6.4" lengthAdjust="spacingAndGlyphs" class="lg" style="font-size:13.75px">k</text>
<text x="471.9" y="386.2" textLength="13.6" lengthAdjust="spacingAndGlyphs" class="lg" style="font-size:13.75px">Hz</text>
<path d="M401.3 396.5H426" stroke="#00ff00" stroke-width="1.3"/>
<g fill="#00ff00"><path d="M413.4 399.9L416.8 393.9L410.0 393.9Z"/></g>
<text x="433.0" y="400.8" textLength="5.7" lengthAdjust="spacingAndGlyphs" class="lg" style="font-size:13.75px">1</text>
<text x="445.3" y="400.8" textLength="7.4" lengthAdjust="spacingAndGlyphs" class="lg" style="font-size:13.75px">M</text>
<text x="460.0" y="400.8" textLength="11.5" lengthAdjust="spacingAndGlyphs" class="lg" style="font-size:13.75px">Hz</text>
<text x="478.1" y="649.2" textLength="122.2" lengthAdjust="spacingAndGlyphs" class="cap">(4) Rock type R4</text>
<clipPath id="c5"><rect x="54.6" y="692.0" width="282.7" height="245.39999999999998"/></clipPath>
<g clip-path="url(#c5)">
<polyline points="65.5,833.1 69.4,842.5 73.2,849.6 77.0,855.6 80.8,860.7 84.5,864.4 88.3,866.7 92.1,867.0 95.9,863.2 99.7,868.4 103.4,872.8 107.2,875.3 111.0,875.7 114.8,876.1 118.6,875.4 122.3,874.8 126.1,873.9 129.9,872.5 133.7,869.6 137.5,864.4 141.2,857.5 145.0,849.3 148.8,843.5 152.6,833.6 156.4,824.2 160.1,812.7 163.9,799.5 167.7,786.4 171.5,775.4 175.3,761.9 179.0,755.0 182.8,746.6 186.6,752.2 190.4,749.4 194.2,753.9 197.9,761.0 201.7,767.1 205.5,771.0 209.3,772.9 213.1,772.9 216.8,772.6 220.6,772.2 224.4,769.9 228.2,767.3 232.0,766.0 235.7,767.3 239.5,768.8 243.3,769.6 247.1,769.9 250.9,770.2 254.6,770.9 258.4,771.6 262.2,772.4 266.0,773.3 269.8,774.1 273.5,773.7 277.3,773.2 281.1,772.5 284.9,772.8 288.7,773.7 292.4,777.4 296.2,780.9 300.0,783.9 303.8,786.5 307.6,788.4 311.3,789.6 315.1,790.2 319.6,789.1" fill="none" stroke="#000000" stroke-width="1.3" stroke-linejoin="round"/>
<g fill="#000000" shape-rendering="crispEdges"><circle cx="65.5" cy="832.4" r="2.80"/><circle cx="69.4" cy="843.3" r="2.80"/><circle cx="73.2" cy="849.1" r="2.80"/><circle cx="77.0" cy="854.9" r="2.80"/><circle cx="80.8" cy="859.9" r="2.80"/><circle cx="84.5" cy="864.7" r="2.80"/><circle cx="88.3" cy="867.4" r="2.80"/><circle cx="92.1" cy="867.5" r="2.80"/><circle cx="95.9" cy="863.0" r="2.80"/><circle cx="99.7" cy="868.0" r="2.80"/><circle cx="103.4" cy="871.9" r="2.80"/><circle cx="107.2" cy="875.6" r="2.80"/><circle cx="111.0" cy="875.8" r="2.80"/><circle cx="114.8" cy="875.8" r="2.80"/><circle cx="118.6" cy="875.7" r="2.80"/><circle cx="122.3" cy="874.7" r="2.80"/><circle cx="126.1" cy="874.7" r="2.80"/><circle cx="129.9" cy="872.9" r="2.80"/><circle cx="133.7" cy="869.1" r="2.80"/><circle cx="137.5" cy="865.1" r="2.80"/><circle cx="141.2" cy="856.7" r="2.80"/><circle cx="145.0" cy="849.3" r="2.80"/><circle cx="148.8" cy="843.4" r="2.80"/><circle cx="152.6" cy="833.1" r="2.80"/><circle cx="156.4" cy="823.4" r="2.80"/><circle cx="160.1" cy="813.2" r="2.80"/><circle cx="163.9" cy="798.6" r="2.80"/><circle cx="167.7" cy="786.4" r="2.80"/><circle cx="171.5" cy="776.2" r="2.80"/><circle cx="175.3" cy="761.3" r="2.80"/><circle cx="179.0" cy="754.5" r="2.80"/><circle cx="182.8" cy="746.8" r="2.80"/><circle cx="186.6" cy="752.3" r="2.80"/><circle cx="190.4" cy="749.6" r="2.80"/><circle cx="194.2" cy="754.4" r="2.80"/><circle cx="197.9" cy="760.4" r="2.80"/><circle cx="201.7" cy="766.8" r="2.80"/><circle cx="205.5" cy="770.6" r="2.80"/><circle cx="209.3" cy="772.1" r="2.80"/><circle cx="213.1" cy="773.6" r="2.80"/><circle cx="216.8" cy="773.1" r="2.80"/><circle cx="220.6" cy="772.5" r="2.80"/><circle cx="224.4" cy="769.0" r="2.80"/><circle cx="228.2" cy="767.9" r="2.80"/><circle cx="232.0" cy="766.5" r="2.80"/><circle cx="235.7" cy="767.2" r="2.80"/><circle cx="239.5" cy="769.2" r="2.80"/><circle cx="243.3" cy="769.5" r="2.80"/><circle cx="247.1" cy="769.4" r="2.80"/><circle cx="250.9" cy="769.5" r="2.80"/><circle cx="254.6" cy="770.4" r="2.80"/><circle cx="258.4" cy="770.8" r="2.80"/><circle cx="262.2" cy="772.1" r="2.80"/><circle cx="266.0" cy="773.8" r="2.80"/><circle cx="269.8" cy="774.4" r="2.80"/><circle cx="273.5" cy="774.3" r="2.80"/><circle cx="277.3" cy="773.5" r="2.80"/><circle cx="281.1" cy="772.1" r="2.80"/><circle cx="284.9" cy="772.9" r="2.80"/><circle cx="288.7" cy="773.5" r="2.80"/><circle cx="292.4" cy="778.0" r="2.80"/><circle cx="296.2" cy="780.9" r="2.80"/><circle cx="300.0" cy="783.5" r="2.80"/><circle cx="303.8" cy="786.8" r="2.80"/><circle cx="307.6" cy="789.3" r="2.80"/><circle cx="311.3" cy="789.1" r="2.80"/><circle cx="315.1" cy="790.9" r="2.80"/><circle cx="319.6" cy="788.2" r="2.80"/></g>
<polyline points="63.8,851.5 65.6,854.6 69.4,861.0 73.2,867.3 77.0,871.8 80.8,875.6 84.5,875.3 88.3,874.3 92.1,871.5 95.9,870.1 99.7,876.3 103.4,879.2 107.2,881.1 111.0,882.2 114.8,883.2 118.6,884.6 122.3,885.7 126.1,885.7 129.9,884.4 133.7,880.5 137.5,877.4 141.2,870.7 145.0,862.9 148.8,856.0 152.6,848.9 156.4,840.0 160.1,832.3 163.9,820.5 167.7,806.4 171.5,794.8 175.3,788.1 179.0,777.1 182.8,771.9 186.6,767.5 190.4,763.5 194.2,773.4 197.9,778.4 201.7,780.2 205.5,780.7 209.3,779.8 213.1,778.7 216.8,777.2 220.6,775.3 224.4,773.7 228.2,772.2 232.0,769.4 235.7,766.7 239.5,764.3 243.3,763.3 247.1,763.3 250.9,763.4 254.6,763.6 258.4,763.9 262.2,771.1 266.0,770.8 269.8,770.4 273.5,769.8 277.3,769.0 281.1,767.7 284.9,766.3 288.7,764.4 292.4,764.3 296.2,766.9 300.0,771.1 303.8,774.0 307.6,776.5 311.3,778.8 315.1,781.5 319.6,784.9" fill="none" stroke="#ff0000" stroke-width="1.3" stroke-linejoin="round"/>
<g fill="#ff0000" shape-rendering="crispEdges"><path d="M63.8 847.7L67.2 853.6L60.4 853.6Z"/><path d="M65.6 850.7L69.0 856.7L62.2 856.7Z"/><path d="M69.4 858.0L72.8 864.0L66.0 864.0Z"/><path d="M73.2 864.7L76.6 870.6L69.8 870.6Z"/><path d="M77.0 868.8L80.4 874.8L73.6 874.8Z"/><path d="M80.8 871.8L84.2 877.8L77.4 877.8Z"/><path d="M84.5 872.6L87.9 878.5L81.1 878.5Z"/><path d="M88.3 870.6L91.7 876.5L84.9 876.5Z"/><path d="M92.1 867.6L95.5 873.6L88.7 873.6Z"/><path d="M95.9 867.4L99.3 873.3L92.5 873.3Z"/><path d="M99.7 873.1L103.1 879.0L96.3 879.0Z"/><path d="M103.4 876.2L106.8 882.1L100.0 882.1Z"/><path d="M107.2 878.0L110.6 884.0L103.8 884.0Z"/><path d="M111.0 879.6L114.4 885.6L107.6 885.6Z"/><path d="M114.8 879.7L118.2 885.7L111.4 885.7Z"/><path d="M118.6 881.8L122.0 887.7L115.2 887.7Z"/><path d="M122.3 882.7L125.7 888.6L118.9 888.6Z"/><path d="M126.1 882.9L129.5 888.9L122.7 888.9Z"/><path d="M129.9 880.9L133.3 886.8L126.5 886.8Z"/><path d="M133.7 877.5L137.1 883.5L130.3 883.5Z"/><path d="M137.5 874.2L140.9 880.1L134.1 880.1Z"/><path d="M141.2 867.0L144.6 872.9L137.8 872.9Z"/><path d="M145.0 859.0L148.4 864.9L141.6 864.9Z"/><path d="M148.8 852.9L152.2 858.8L145.4 858.8Z"/><path d="M152.6 844.7L156.0 850.6L149.2 850.6Z"/><path d="M156.4 837.3L159.8 843.2L153.0 843.2Z"/><path d="M160.1 828.3L163.5 834.2L156.7 834.2Z"/><path d="M163.9 816.2L167.3 822.2L160.5 822.2Z"/><path d="M167.7 802.3L171.1 808.3L164.3 808.3Z"/><path d="M171.5 792.2L174.9 798.2L168.1 798.2Z"/><path d="M175.3 784.4L178.7 790.3L171.9 790.3Z"/><path d="M179.0 773.1L182.4 779.0L175.6 779.0Z"/><path d="M182.8 767.6L186.2 773.6L179.4 773.6Z"/><path d="M186.6 763.3L190.0 769.2L183.2 769.2Z"/><path d="M190.4 760.5L193.8 766.4L187.0 766.4Z"/><path d="M194.2 770.2L197.6 776.2L190.8 776.2Z"/><path d="M197.9 775.3L201.3 781.3L194.5 781.3Z"/><path d="M201.7 777.3L205.1 783.2L198.3 783.2Z"/><path d="M205.5 776.5L208.9 782.5L202.1 782.5Z"/><path d="M209.3 776.6L212.7 782.6L205.9 782.6Z"/><path d="M213.1 775.1L216.5 781.0L209.7 781.0Z"/><path d="M216.8 774.4L220.2 780.3L213.4 780.3Z"/><path d="M220.6 772.5L224.0 778.4L217.2 778.4Z"/><path d="M224.4 771.0L227.8 777.0L221.0 777.0Z"/><path d="M228.2 768.1L231.6 774.0L224.8 774.0Z"/><path d="M232.0 766.7L235.4 772.6L228.6 772.6Z"/><path d="M235.7 764.0L239.1 770.0L232.3 770.0Z"/><path d="M239.5 761.7L242.9 767.6L236.1 767.6Z"/><path d="M243.3 759.2L246.7 765.1L239.9 765.1Z"/><path d="M247.1 759.4L250.5 765.3L243.7 765.3Z"/><path d="M250.9 759.3L254.3 765.2L247.5 765.2Z"/><path d="M254.6 759.4L258.0 765.3L251.2 765.3Z"/><path d="M258.4 761.1L261.8 767.1L255.0 767.1Z"/><path d="M262.2 768.3L265.6 774.2L258.8 774.2Z"/><path d="M266.0 767.6L269.4 773.6L262.6 773.6Z"/><path d="M269.8 767.6L273.2 773.6L266.4 773.6Z"/><path d="M273.5 766.6L276.9 772.6L270.1 772.6Z"/><path d="M277.3 765.2L280.7 771.2L273.9 771.2Z"/><path d="M281.1 763.5L284.5 769.5L277.7 769.5Z"/><path d="M284.9 762.2L288.3 768.1L281.5 768.1Z"/><path d="M288.7 761.5L292.1 767.4L285.3 767.4Z"/><path d="M292.4 760.3L295.8 766.3L289.0 766.3Z"/><path d="M296.2 763.2L299.6 769.1L292.8 769.1Z"/><path d="M300.0 767.6L303.4 773.6L296.6 773.6Z"/><path d="M303.8 769.7L307.2 775.7L300.4 775.7Z"/><path d="M307.6 772.7L311.0 778.6L304.2 778.6Z"/><path d="M311.3 775.0L314.7 781.0L307.9 781.0Z"/><path d="M315.1 778.5L318.5 784.4L311.7 784.4Z"/><path d="M319.6 781.3L323.0 787.2L316.2 787.2Z"/></g>
<polyline points="65.5,847.2 69.4,855.0 73.2,863.8 77.0,871.4 80.8,876.9 84.5,879.2 88.3,880.6 92.1,881.0 95.9,882.0 99.7,886.3 103.4,890.6 107.2,894.9 111.0,897.0 114.8,898.8 118.6,898.8 122.3,899.0 126.1,900.0 129.9,899.8 133.7,897.5 137.5,895.2 141.2,893.4 145.0,891.5 148.8,888.6 152.6,885.3 156.4,880.7 160.1,876.0 163.9,867.7 167.7,858.4 171.5,847.3 175.3,835.5 179.0,828.5 182.8,819.0 186.6,818.1 190.4,817.6 194.2,817.6 197.9,819.4 201.7,822.2 205.5,824.0 209.3,825.4 213.1,825.5 216.8,825.3 220.6,821.9 224.4,818.2 228.2,813.1 232.0,806.0 235.7,799.3 239.5,791.0 243.3,784.9 247.1,776.5 250.9,772.1 254.6,769.7 258.4,767.8 262.2,767.5 266.0,767.2 269.8,766.7 273.5,765.1 277.3,763.5 281.1,761.6 284.9,759.8 288.7,760.6 292.4,760.2 296.2,758.3 300.0,756.6 303.8,755.0 307.6,753.6 311.3,752.4 315.1,751.6 318.9,751.1 320.8,750.8" fill="none" stroke="#0000ff" stroke-width="1.3" stroke-linejoin="round"/>
<g fill="#0000ff" shape-rendering="crispEdges"><path d="M65.5 843.3L68.6 846.9L65.5 850.5L62.4 846.9Z"/><path d="M69.4 852.2L72.5 855.8L69.4 859.4L66.4 855.8Z"/><path d="M73.2 860.2L76.3 863.8L73.2 867.4L70.1 863.8Z"/><path d="M77.0 868.4L80.0 872.0L77.0 875.6L73.9 872.0Z"/><path d="M80.8 873.5L83.8 877.1L80.8 880.7L77.7 877.1Z"/><path d="M84.5 874.8L87.6 878.4L84.5 882.0L81.5 878.4Z"/><path d="M88.3 876.8L91.4 880.4L88.3 884.0L85.3 880.4Z"/><path d="M92.1 877.3L95.2 880.9L92.1 884.5L89.0 880.9Z"/><path d="M95.9 878.9L98.9 882.5L95.9 886.1L92.8 882.5Z"/><path d="M99.7 882.4L102.7 886.0L99.7 889.6L96.6 886.0Z"/><path d="M103.4 887.4L106.5 891.0L103.4 894.6L100.4 891.0Z"/><path d="M107.2 891.3L110.3 894.9L107.2 898.5L104.2 894.9Z"/><path d="M111.0 892.9L114.1 896.5L111.0 900.1L107.9 896.5Z"/><path d="M114.8 895.9L117.8 899.5L114.8 903.1L111.7 899.5Z"/><path d="M118.6 894.5L121.6 898.1L118.6 901.7L115.5 898.1Z"/><path d="M122.3 896.0L125.4 899.6L122.3 903.2L119.3 899.6Z"/><path d="M126.1 895.8L129.2 899.4L126.1 903.0L123.1 899.4Z"/><path d="M129.9 895.3L133.0 898.9L129.9 902.5L126.8 898.9Z"/><path d="M133.7 893.4L136.7 897.0L133.7 900.6L130.6 897.0Z"/><path d="M137.5 892.1L140.5 895.7L137.5 899.3L134.4 895.7Z"/><path d="M141.2 890.6L144.3 894.2L141.2 897.8L138.2 894.2Z"/><path d="M145.0 887.0L148.1 890.6L145.0 894.2L142.0 890.6Z"/><path d="M148.8 885.0L151.9 888.6L148.8 892.2L145.7 888.6Z"/><path d="M152.6 881.6L155.6 885.2L152.6 888.8L149.5 885.2Z"/><path d="M156.4 877.7L159.4 881.3L156.4 884.9L153.3 881.3Z"/><path d="M160.1 871.8L163.2 875.4L160.1 879.0L157.1 875.4Z"/><path d="M163.9 864.1L167.0 867.7L163.9 871.3L160.9 867.7Z"/><path d="M167.7 854.6L170.8 858.2L167.7 861.8L164.6 858.2Z"/><path d="M171.5 844.3L174.5 847.9L171.5 851.5L168.4 847.9Z"/><path d="M175.3 831.5L178.3 835.1L175.3 838.7L172.2 835.1Z"/><path d="M179.0 825.7L182.1 829.3L179.0 832.9L176.0 829.3Z"/><path d="M182.8 815.0L185.9 818.6L182.8 822.2L179.8 818.6Z"/><path d="M186.6 813.9L189.7 817.5L186.6 821.1L183.5 817.5Z"/><path d="M190.4 814.4L193.4 818.0L190.4 821.6L187.3 818.0Z"/><path d="M194.2 814.0L197.2 817.6L194.2 821.2L191.1 817.6Z"/><path d="M197.9 815.1L201.0 818.7L197.9 822.3L194.9 818.7Z"/><path d="M201.7 818.9L204.8 822.5L201.7 826.1L198.7 822.5Z"/><path d="M205.5 819.6L208.6 823.2L205.5 826.8L202.4 823.2Z"/><path d="M209.3 822.3L212.3 825.9L209.3 829.5L206.2 825.9Z"/><path d="M213.1 822.3L216.1 825.9L213.1 829.5L210.0 825.9Z"/><path d="M216.8 822.2L219.9 825.8L216.8 829.4L213.8 825.8Z"/><path d="M220.6 818.6L223.7 822.2L220.6 825.8L217.6 822.2Z"/><path d="M224.4 814.4L227.5 818.0L224.4 821.6L221.3 818.0Z"/><path d="M228.2 809.4L231.2 813.0L228.2 816.6L225.1 813.0Z"/><path d="M232.0 802.2L235.0 805.8L232.0 809.4L228.9 805.8Z"/><path d="M235.7 796.4L238.8 800.0L235.7 803.6L232.7 800.0Z"/><path d="M239.5 786.6L242.6 790.2L239.5 793.8L236.5 790.2Z"/><path d="M243.3 782.0L246.4 785.6L243.3 789.2L240.2 785.6Z"/><path d="M247.1 772.0L250.1 775.6L247.1 779.2L244.0 775.6Z"/><path d="M250.9 767.9L253.9 771.5L250.9 775.1L247.8 771.5Z"/><path d="M254.6 765.7L257.7 769.3L254.6 772.9L251.6 769.3Z"/><path d="M258.4 764.9L261.5 768.5L258.4 772.1L255.4 768.5Z"/><path d="M262.2 763.9L265.3 767.5L262.2 771.1L259.1 767.5Z"/><path d="M266.0 763.4L269.0 767.0L266.0 770.6L262.9 767.0Z"/><path d="M269.8 763.8L272.8 767.4L269.8 771.0L266.7 767.4Z"/><path d="M273.5 761.0L276.6 764.6L273.5 768.2L270.5 764.6Z"/><path d="M277.3 759.8L280.4 763.4L277.3 767.0L274.3 763.4Z"/><path d="M281.1 758.1L284.2 761.7L281.1 765.3L278.0 761.7Z"/><path d="M284.9 756.7L287.9 760.3L284.9 763.9L281.8 760.3Z"/><path d="M288.7 757.4L291.7 761.0L288.7 764.6L285.6 761.0Z"/><path d="M292.4 756.9L295.5 760.5L292.4 764.1L289.4 760.5Z"/><path d="M296.2 754.5L299.3 758.1L296.2 761.7L293.2 758.1Z"/><path d="M300.0 752.7L303.1 756.3L300.0 759.9L296.9 756.3Z"/><path d="M303.8 750.8L306.8 754.4L303.8 758.0L300.7 754.4Z"/><path d="M307.6 750.7L310.6 754.3L307.6 757.9L304.5 754.3Z"/><path d="M311.3 749.1L314.4 752.7L311.3 756.3L308.3 752.7Z"/><path d="M315.1 748.5L318.2 752.1L315.1 755.7L312.1 752.1Z"/><path d="M318.9 746.9L322.0 750.5L318.9 754.1L315.8 750.5Z"/><path d="M320.8 747.1L323.9 750.7L320.8 754.3L317.7 750.7Z"/></g>
<polyline points="64.6,851.5 69.4,863.7 73.2,871.2 77.0,877.9 80.8,883.1 84.5,885.9 88.3,887.9 92.1,888.8 95.9,891.2 99.7,895.0 103.4,901.2 107.2,904.7 111.0,907.5 114.8,907.9 118.6,908.2 122.3,908.6 126.1,908.8 129.9,909.1 133.7,908.9 137.5,908.0 141.2,907.0 145.0,904.6 148.8,901.3 152.6,897.6 156.4,893.8 160.1,888.3 163.9,882.5 167.7,875.0 171.5,865.4 175.3,855.3 179.0,846.6 182.8,840.3 186.6,836.7 190.4,834.6 194.2,833.7 197.9,834.6 201.7,836.5 205.5,838.0 209.3,839.4 213.1,839.9 216.8,840.2 220.6,837.9 224.4,835.6 228.2,833.7 232.0,831.3 235.7,828.2 239.5,820.7 243.3,813.2 247.1,805.7 250.9,798.8 254.6,793.9 258.4,789.5 262.2,784.9 266.0,780.3 269.8,776.2 273.5,772.9 277.3,768.3 281.1,764.3 284.9,760.9 288.7,758.7 292.4,756.1 296.2,753.0 300.0,751.4 303.8,749.8 307.6,747.9 311.3,746.2 315.1,744.8 318.9,744.0 320.8,743.6" fill="none" stroke="#00ff00" stroke-width="1.3" stroke-linejoin="round"/>
<g fill="#00ff00" shape-rendering="crispEdges"><path d="M64.6 855.4L68.0 849.4L61.2 849.4Z"/><path d="M69.4 867.3L72.8 861.3L66.0 861.3Z"/><path d="M73.2 873.9L76.6 868.0L69.8 868.0Z"/><path d="M77.0 881.3L80.4 875.3L73.6 875.3Z"/><path d="M80.8 887.2L84.2 881.3L77.4 881.3Z"/><path d="M84.5 888.9L87.9 882.9L81.1 882.9Z"/><path d="M88.3 890.7L91.7 884.8L84.9 884.8Z"/><path d="M92.1 891.9L95.5 885.9L88.7 885.9Z"/><path d="M95.9 894.9L99.3 889.0L92.5 889.0Z"/><path d="M99.7 899.0L103.1 893.1L96.3 893.1Z"/><path d="M103.4 904.0L106.8 898.0L100.0 898.0Z"/><path d="M107.2 907.4L110.6 901.5L103.8 901.5Z"/><path d="M111.0 910.5L114.4 904.5L107.6 904.5Z"/><path d="M114.8 911.0L118.2 905.1L111.4 905.1Z"/><path d="M118.6 911.7L122.0 905.7L115.2 905.7Z"/><path d="M122.3 911.3L125.7 905.4L118.9 905.4Z"/><path d="M126.1 911.9L129.5 906.0L122.7 906.0Z"/><path d="M129.9 912.0L133.3 906.0L126.5 906.0Z"/><path d="M133.7 913.2L137.1 907.2L130.3 907.2Z"/><path d="M137.5 911.8L140.9 905.8L134.1 905.8Z"/><path d="M141.2 909.7L144.6 903.8L137.8 903.8Z"/><path d="M145.0 908.8L148.4 902.9L141.6 902.9Z"/><path d="M148.8 904.0L152.2 898.0L145.4 898.0Z"/><path d="M152.6 900.8L156.0 894.9L149.2 894.9Z"/><path d="M156.4 898.1L159.8 892.2L153.0 892.2Z"/><path d="M160.1 892.2L163.5 886.3L156.7 886.3Z"/><path d="M163.9 886.3L167.3 880.3L160.5 880.3Z"/><path d="M167.7 878.3L171.1 872.3L164.3 872.3Z"/><path d="M171.5 868.2L174.9 862.3L168.1 862.3Z"/><path d="M175.3 858.9L178.7 853.0L171.9 853.0Z"/><path d="M179.0 849.3L182.4 843.3L175.6 843.3Z"/><path d="M182.8 843.2L186.2 837.2L179.4 837.2Z"/><path d="M186.6 839.9L190.0 834.0L183.2 834.0Z"/><path d="M190.4 837.2L193.8 831.3L187.0 831.3Z"/><path d="M194.2 836.9L197.6 831.0L190.8 831.0Z"/><path d="M197.9 838.5L201.3 832.6L194.5 832.6Z"/><path d="M201.7 840.2L205.1 834.3L198.3 834.3Z"/><path d="M205.5 841.4L208.9 835.4L202.1 835.4Z"/><path d="M209.3 843.0L212.7 837.1L205.9 837.1Z"/><path d="M213.1 843.3L216.5 837.3L209.7 837.3Z"/><path d="M216.8 843.0L220.2 837.1L213.4 837.1Z"/><path d="M220.6 841.5L224.0 835.5L217.2 835.5Z"/><path d="M224.4 838.8L227.8 832.9L221.0 832.9Z"/><path d="M228.2 837.5L231.6 831.6L224.8 831.6Z"/><path d="M232.0 835.5L235.4 829.5L228.6 829.5Z"/><path d="M235.7 831.4L239.1 825.5L232.3 825.5Z"/><path d="M239.5 824.3L242.9 818.3L236.1 818.3Z"/><path d="M243.3 817.0L246.7 811.1L239.9 811.1Z"/><path d="M247.1 808.9L250.5 803.0L243.7 803.0Z"/><path d="M250.9 801.8L254.3 795.8L247.5 795.8Z"/><path d="M254.6 797.7L258.0 791.8L251.2 791.8Z"/><path d="M258.4 793.6L261.8 787.6L255.0 787.6Z"/><path d="M262.2 788.8L265.6 782.8L258.8 782.8Z"/><path d="M266.0 784.1L269.4 778.2L262.6 778.2Z"/><path d="M269.8 780.2L273.2 774.3L266.4 774.3Z"/><path d="M273.5 776.6L276.9 770.7L270.1 770.7Z"/><path d="M277.3 772.0L280.7 766.0L273.9 766.0Z"/><path d="M281.1 767.6L284.5 761.7L277.7 761.7Z"/><path d="M284.9 764.0L288.3 758.0L281.5 758.0Z"/><path d="M288.7 762.3L292.1 756.4L285.3 756.4Z"/><path d="M292.4 758.7L295.8 752.8L289.0 752.8Z"/><path d="M296.2 756.2L299.6 750.3L292.8 750.3Z"/><path d="M300.0 755.3L303.4 749.4L296.6 749.4Z"/><path d="M303.8 753.5L307.2 747.6L300.4 747.6Z"/><path d="M307.6 751.5L311.0 745.6L304.2 745.6Z"/><path d="M311.3 749.2L314.7 743.2L307.9 743.2Z"/><path d="M315.1 748.0L318.5 742.1L311.7 742.1Z"/><path d="M318.9 747.3L322.3 741.4L315.5 741.4Z"/><path d="M320.8 747.2L324.2 741.3L317.4 741.3Z"/></g>
</g>
<path d="M54.5 692.5H337.5V937.5" fill="none" stroke="#000" stroke-width="1.2"/>
<path d="M54.5 692.0V937.5H337.5" fill="none" stroke="#000" stroke-width="1.5"/>
<path d="M51.0 937.5H54.5 M52.0 906.5H54.5 M51.0 876.5H54.5 M52.0 845.5H54.5 M51.0 814.5H54.5 M52.0 784.5H54.5 M51.0 753.5H54.5 M52.0 722.5H54.5 M51.0 692.5H54.5 M54.5 937.5V941.0 M73.5 937.5V940.0 M92.5 937.5V941.0 M111.5 937.5V940.0 M129.5 937.5V941.0 M148.5 937.5V940.0 M167.5 937.5V941.0 M186.5 937.5V940.0 M205.5 937.5V941.0 M224.5 937.5V940.0 M243.5 937.5V941.0 M262.5 937.5V940.0 M281.5 937.5V941.0 M300.5 937.5V940.0 M318.5 937.5V941.0" stroke="#000" stroke-width="1.1" fill="none"/>
<text x="12.7" y="940.7" textLength="35.5" lengthAdjust="spacingAndGlyphs" class="tl">0.0E+0</text>
<text x="12.7" y="879.3" textLength="35.5" lengthAdjust="spacingAndGlyphs" class="tl">1.0E-2</text>
<text x="12.7" y="818.0" textLength="35.5" lengthAdjust="spacingAndGlyphs" class="tl">2.0E-2</text>
<text x="12.7" y="756.6" textLength="35.5" lengthAdjust="spacingAndGlyphs" class="tl">3.0E-2</text>
<text x="12.7" y="695.3" textLength="35.5" lengthAdjust="spacingAndGlyphs" class="tl">4.0E-2</text>
<text x="54.3" y="955.2" text-anchor="middle" class="tl" textLength="5.9" lengthAdjust="spacingAndGlyphs">0</text>
<text x="92.1" y="955.2" text-anchor="middle" class="tl" textLength="17.7" lengthAdjust="spacingAndGlyphs">100</text>
<text x="129.9" y="955.2" text-anchor="middle" class="tl" textLength="17.7" lengthAdjust="spacingAndGlyphs">200</text>
<text x="167.7" y="955.2" text-anchor="middle" class="tl" textLength="17.7" lengthAdjust="spacingAndGlyphs">300</text>
<text x="205.5" y="955.2" text-anchor="middle" class="tl" textLength="17.7" lengthAdjust="spacingAndGlyphs">400</text>
<text x="243.3" y="955.2" text-anchor="middle" class="tl" textLength="17.7" lengthAdjust="spacingAndGlyphs">500</text>
<text x="281.1" y="955.2" text-anchor="middle" class="tl" textLength="17.7" lengthAdjust="spacingAndGlyphs">600</text>
<text x="318.9" y="955.2" text-anchor="middle" class="tl" textLength="17.7" lengthAdjust="spacingAndGlyphs">700</text>
<text x="172.0" y="968.5" textLength="47.4" lengthAdjust="spacingAndGlyphs" class="xl" style="font-size:11.5px;font-weight:bold">T emp(°C)</text>
<text transform="translate(10.8,815.7) rotate(-90)" text-anchor="middle" class="yl" textLength="28.0" lengthAdjust="spacingAndGlyphs">tanδ</text>
<rect x="56.5" y="694.5" width="96.0" height="71.0" fill="#fff" stroke="#000" stroke-width="1.3"/>
<path d="M58.8 704.5H86.6" stroke="#000000" stroke-width="1.3"/>
<g fill="#000000"><circle cx="73.0" cy="704.8" r="2.80"/></g>
<text x="94.6" y="709.4" textLength="13.7" lengthAdjust="spacingAndGlyphs" class="lg" style="font-size:14.85px">50</text>
<text x="116.0" y="709.4" textLength="6.0" lengthAdjust="spacingAndGlyphs" class="lg" style="font-size:14.85px">k</text>
<text x="129.0" y="709.4" textLength="14.6" lengthAdjust="spacingAndGlyphs" class="lg" style="font-size:14.85px">Hz</text>
<path d="M58.8 721.5H86.6" stroke="#ff0000" stroke-width="1.3"/>
<g fill="#ff0000"><path d="M73.0 718.4L76.4 724.3L69.6 724.3Z"/></g>
<text x="94.6" y="726.4" textLength="20.5" lengthAdjust="spacingAndGlyphs" class="lg" style="font-size:14.85px">100</text>
<text x="122.8" y="726.4" textLength="6.9" lengthAdjust="spacingAndGlyphs" class="lg" style="font-size:14.85px">k</text>
<text x="136.6" y="726.4" textLength="14.6" lengthAdjust="spacingAndGlyphs" class="lg" style="font-size:14.85px">Hz</text>
<path d="M58.8 739.5H86.6" stroke="#0000ff" stroke-width="1.3"/>
<g fill="#0000ff"><path d="M73.0 735.4L76.1 739.0L73.0 742.6L69.9 739.0Z"/></g>
<text x="94.6" y="743.6" textLength="20.5" lengthAdjust="spacingAndGlyphs" class="lg" style="font-size:14.85px">500</text>
<text x="122.8" y="743.6" textLength="6.9" lengthAdjust="spacingAndGlyphs" class="lg" style="font-size:14.85px">k</text>
<text x="136.6" y="743.6" textLength="14.6" lengthAdjust="spacingAndGlyphs" class="lg" style="font-size:14.85px">Hz</text>
<path d="M58.8 755.5H86.6" stroke="#00ff00" stroke-width="1.3"/>
<g fill="#00ff00"><path d="M73.0 759.2L76.4 753.2L69.6 753.2Z"/></g>
<text x="94.6" y="760.4" textLength="6.3" lengthAdjust="spacingAndGlyphs" class="lg" style="font-size:14.85px">1</text>
<text x="108.0" y="760.4" textLength="8.0" lengthAdjust="spacingAndGlyphs" class="lg" style="font-size:14.85px">M</text>
<text x="124.1" y="760.4" textLength="12.6" lengthAdjust="spacingAndGlyphs" class="lg" style="font-size:14.85px">Hz</text>
<text x="123.1" y="1020.5" textLength="121.4" lengthAdjust="spacingAndGlyphs" class="cap">(5) Rock type R5</text>
<clipPath id="c6"><rect x="401.7" y="692.0" width="282.40000000000003" height="245.39999999999998"/></clipPath>
<g clip-path="url(#c6)">
<polyline points="413.4,808.8 416.3,816.3 420.1,825.3 423.9,833.0 427.7,839.5 431.4,845.4 435.2,851.8 439.0,863.0 442.8,872.2 446.6,880.0 450.3,885.8 454.1,887.0 457.9,887.1 461.7,886.0 465.5,882.8 469.2,878.4 473.0,872.9 476.8,870.8 480.6,867.1 484.4,860.0 488.1,853.3 491.9,844.4 495.7,836.5 499.5,827.2 503.3,817.6 507.0,806.4 510.8,796.0 514.6,785.9 518.4,774.8 522.2,762.0 525.9,750.4 529.7,744.7 533.5,742.9 537.3,744.5 541.1,747.8 544.8,750.5 548.6,754.0 552.4,757.8 556.2,761.2 560.0,764.7 563.7,769.9 567.5,774.5 571.3,777.4 575.1,780.2 578.9,783.0 582.6,785.8 586.4,788.7 590.2,790.6 594.0,792.0 597.8,794.3 601.5,795.4 605.3,794.5 609.1,794.0 612.9,794.0 616.7,793.7 620.4,793.0 624.2,791.3 628.0,788.7 631.8,786.4 635.6,784.2 639.3,783.3 643.1,783.0 646.9,782.4 650.7,781.3 654.5,777.1 658.2,769.6 662.0,761.7 665.6,748.6" fill="none" stroke="#000000" stroke-width="1.3" stroke-linejoin="round"/>
<g fill="#000000" shape-rendering="crispEdges"><circle cx="413.4" cy="808.6" r="2.80"/><circle cx="416.3" cy="816.6" r="2.80"/><circle cx="420.1" cy="826.1" r="2.80"/><circle cx="423.9" cy="832.4" r="2.80"/><circle cx="427.7" cy="839.8" r="2.80"/><circle cx="431.4" cy="845.9" r="2.80"/><circle cx="435.2" cy="851.6" r="2.80"/><circle cx="439.0" cy="863.0" r="2.80"/><circle cx="442.8" cy="873.1" r="2.80"/><circle cx="446.6" cy="879.2" r="2.80"/><circle cx="450.3" cy="885.9" r="2.80"/><circle cx="454.1" cy="886.3" r="2.80"/><circle cx="457.9" cy="887.6" r="2.80"/><circle cx="461.7" cy="886.8" r="2.80"/><circle cx="465.5" cy="882.8" r="2.80"/><circle cx="469.2" cy="877.7" r="2.80"/><circle cx="473.0" cy="873.1" r="2.80"/><circle cx="476.8" cy="870.9" r="2.80"/><circle cx="480.6" cy="867.5" r="2.80"/><circle cx="484.4" cy="860.0" r="2.80"/><circle cx="488.1" cy="853.6" r="2.80"/><circle cx="491.9" cy="845.0" r="2.80"/><circle cx="495.7" cy="836.6" r="2.80"/><circle cx="499.5" cy="827.1" r="2.80"/><circle cx="503.3" cy="818.4" r="2.80"/><circle cx="507.0" cy="805.9" r="2.80"/><circle cx="510.8" cy="796.4" r="2.80"/><circle cx="514.6" cy="785.7" r="2.80"/><circle cx="518.4" cy="775.3" r="2.80"/><circle cx="522.2" cy="761.4" r="2.80"/><circle cx="525.9" cy="751.3" r="2.80"/><circle cx="529.7" cy="744.5" r="2.80"/><circle cx="533.5" cy="742.1" r="2.80"/><circle cx="537.3" cy="744.1" r="2.80"/><circle cx="541.1" cy="747.6" r="2.80"/><circle cx="544.8" cy="749.6" r="2.80"/><circle cx="548.6" cy="753.9" r="2.80"/><circle cx="552.4" cy="757.7" r="2.80"/><circle cx="556.2" cy="761.5" r="2.80"/><circle cx="560.0" cy="764.4" r="2.80"/><circle cx="563.7" cy="769.5" r="2.80"/><circle cx="567.5" cy="774.0" r="2.80"/><circle cx="571.3" cy="777.8" r="2.80"/><circle cx="575.1" cy="781.0" r="2.80"/><circle cx="578.9" cy="783.1" r="2.80"/><circle cx="582.6" cy="785.3" r="2.80"/><circle cx="586.4" cy="789.2" r="2.80"/><circle cx="590.2" cy="790.4" r="2.80"/><circle cx="594.0" cy="791.5" r="2.80"/><circle cx="597.8" cy="793.6" r="2.80"/><circle cx="601.5" cy="795.9" r="2.80"/><circle cx="605.3" cy="795.1" r="2.80"/><circle cx="609.1" cy="794.2" r="2.80"/><circle cx="612.9" cy="793.9" r="2.80"/><circle cx="616.7" cy="793.8" r="2.80"/><circle cx="620.4" cy="792.5" r="2.80"/><circle cx="624.2" cy="792.1" r="2.80"/><circle cx="628.0" cy="788.5" r="2.80"/><circle cx="631.8" cy="786.7" r="2.80"/><circle cx="635.6" cy="784.8" r="2.80"/><circle cx="639.3" cy="783.9" r="2.80"/><circle cx="643.1" cy="782.9" r="2.80"/><circle cx="646.9" cy="782.0" r="2.80"/><circle cx="650.7" cy="781.4" r="2.80"/><circle cx="654.5" cy="776.4" r="2.80"/><circle cx="658.2" cy="770.2" r="2.80"/><circle cx="662.0" cy="761.5" r="2.80"/><circle cx="665.6" cy="749.2" r="2.80"/></g>
<polyline points="413.4,815.8 416.3,822.2 420.1,831.0 423.9,839.1 427.7,845.6 431.4,851.7 435.2,857.7 439.0,870.8 442.8,883.2 446.6,890.1 450.3,893.0 454.1,894.4 457.9,893.4 461.7,892.0 465.5,890.1 469.2,888.1 473.0,885.7 476.8,883.1 480.6,879.8 484.4,875.9 488.1,871.0 491.9,862.0 495.7,854.4 499.5,846.8 503.3,838.3 507.0,827.0 510.8,814.8 514.6,803.9 518.4,794.8 522.2,785.4 525.9,774.8 529.7,769.1 533.5,766.4 537.3,764.7 541.1,765.8 544.8,768.0 548.6,771.5 552.4,775.3 556.2,779.1 560.0,782.8 563.7,785.1 567.5,787.3 571.3,788.8 575.1,790.3 578.9,792.2 582.6,794.1 586.4,796.0 590.2,795.9 594.0,795.0 597.8,794.3 601.5,792.4 605.3,788.9 609.1,788.3 612.9,787.7 616.7,786.7 620.4,785.9 624.2,785.6 628.0,785.3 631.8,785.0 635.6,784.6 639.3,783.9 643.1,783.3 646.9,782.6 650.7,782.0 654.5,781.2 658.2,779.6 662.0,777.6 666.2,775.6" fill="none" stroke="#ff0000" stroke-width="1.3" stroke-linejoin="round"/>
<g fill="#ff0000" shape-rendering="crispEdges"><path d="M413.4 812.0L416.8 817.9L410.0 817.9Z"/><path d="M416.3 818.5L419.7 824.5L412.9 824.5Z"/><path d="M420.1 827.2L423.5 833.1L416.7 833.1Z"/><path d="M423.9 835.6L427.3 841.5L420.5 841.5Z"/><path d="M427.7 841.7L431.1 847.6L424.3 847.6Z"/><path d="M431.4 847.4L434.8 853.3L428.0 853.3Z"/><path d="M435.2 854.7L438.6 860.6L431.8 860.6Z"/><path d="M439.0 867.0L442.4 873.0L435.6 873.0Z"/><path d="M442.8 879.3L446.2 885.3L439.4 885.3Z"/><path d="M446.6 886.3L450.0 892.3L443.2 892.3Z"/><path d="M450.3 889.6L453.7 895.5L446.9 895.5Z"/><path d="M454.1 890.9L457.5 896.8L450.7 896.8Z"/><path d="M457.9 890.2L461.3 896.2L454.5 896.2Z"/><path d="M461.7 888.8L465.1 894.8L458.3 894.8Z"/><path d="M465.5 886.4L468.9 892.4L462.1 892.4Z"/><path d="M469.2 885.5L472.6 891.4L465.8 891.4Z"/><path d="M473.0 883.0L476.4 888.9L469.6 888.9Z"/><path d="M476.8 878.9L480.2 884.8L473.4 884.8Z"/><path d="M480.6 877.0L484.0 882.9L477.2 882.9Z"/><path d="M484.4 873.2L487.8 879.2L481.0 879.2Z"/><path d="M488.1 868.1L491.5 874.0L484.7 874.0Z"/><path d="M491.9 857.9L495.3 863.9L488.5 863.9Z"/><path d="M495.7 851.6L499.1 857.5L492.3 857.5Z"/><path d="M499.5 843.7L502.9 849.6L496.1 849.6Z"/><path d="M503.3 834.0L506.7 839.9L499.9 839.9Z"/><path d="M507.0 822.7L510.4 828.6L503.6 828.6Z"/><path d="M510.8 812.3L514.2 818.2L507.4 818.2Z"/><path d="M514.6 800.7L518.0 806.7L511.2 806.7Z"/><path d="M518.4 791.0L521.8 796.9L515.0 796.9Z"/><path d="M522.2 781.3L525.6 787.2L518.8 787.2Z"/><path d="M525.9 770.8L529.3 776.7L522.5 776.7Z"/><path d="M529.7 765.2L533.1 771.1L526.3 771.1Z"/><path d="M533.5 763.5L536.9 769.5L530.1 769.5Z"/><path d="M537.3 761.1L540.7 767.0L533.9 767.0Z"/><path d="M541.1 761.7L544.5 767.7L537.7 767.7Z"/><path d="M544.8 765.4L548.2 771.3L541.4 771.3Z"/><path d="M548.6 768.6L552.0 774.6L545.2 774.6Z"/><path d="M552.4 771.3L555.8 777.3L549.0 777.3Z"/><path d="M556.2 776.4L559.6 782.4L552.8 782.4Z"/><path d="M560.0 779.6L563.4 785.6L556.6 785.6Z"/><path d="M563.7 782.2L567.1 788.2L560.3 788.2Z"/><path d="M567.5 784.2L570.9 790.1L564.1 790.1Z"/><path d="M571.3 786.1L574.7 792.0L567.9 792.0Z"/><path d="M575.1 787.4L578.5 793.4L571.7 793.4Z"/><path d="M578.9 789.4L582.3 795.3L575.5 795.3Z"/><path d="M582.6 790.1L586.0 796.1L579.2 796.1Z"/><path d="M586.4 792.9L589.8 798.9L583.0 798.9Z"/><path d="M590.2 792.6L593.6 798.5L586.8 798.5Z"/><path d="M594.0 792.0L597.4 797.9L590.6 797.9Z"/><path d="M597.8 790.8L601.2 796.8L594.4 796.8Z"/><path d="M601.5 789.7L604.9 795.7L598.1 795.7Z"/><path d="M605.3 785.6L608.7 791.6L601.9 791.6Z"/><path d="M609.1 784.5L612.5 790.4L605.7 790.4Z"/><path d="M612.9 783.8L616.3 789.7L609.5 789.7Z"/><path d="M616.7 782.7L620.1 788.6L613.3 788.6Z"/><path d="M620.4 782.5L623.8 788.5L617.0 788.5Z"/><path d="M624.2 781.4L627.6 787.4L620.8 787.4Z"/><path d="M628.0 781.9L631.4 787.8L624.6 787.8Z"/><path d="M631.8 781.0L635.2 786.9L628.4 786.9Z"/><path d="M635.6 781.2L639.0 787.1L632.2 787.1Z"/><path d="M639.3 780.5L642.7 786.5L635.9 786.5Z"/><path d="M643.1 779.9L646.5 785.9L639.7 785.9Z"/><path d="M646.9 779.9L650.3 785.8L643.5 785.8Z"/><path d="M650.7 777.7L654.1 783.6L647.3 783.6Z"/><path d="M654.5 778.5L657.9 784.4L651.1 784.4Z"/><path d="M658.2 776.1L661.6 782.0L654.8 782.0Z"/><path d="M662.0 774.4L665.4 780.3L658.6 780.3Z"/><path d="M666.2 772.5L669.6 778.4L662.8 778.4Z"/></g>
<polyline points="413.4,841.2 416.3,843.7 420.1,847.0 423.9,850.8 427.7,854.7 431.4,859.0 435.2,869.1 439.0,883.1 442.8,892.1 446.6,896.8 450.3,900.0 454.1,901.5 457.9,902.4 461.7,902.1 465.5,901.7 469.2,901.6 473.0,901.6 476.8,901.4 480.6,900.6 484.4,899.9 488.1,897.5 491.9,894.6 495.7,888.9 499.5,883.8 503.3,877.6 507.0,869.3 510.8,862.5 514.6,854.7 518.4,843.3 522.2,832.3 525.9,823.8 529.7,816.5 533.5,811.7 537.3,808.9 541.1,808.9 544.8,810.3 548.6,811.7 552.4,813.1 556.2,814.3 560.0,815.4 563.7,816.5 567.5,817.7 571.3,817.9 575.1,816.0 578.9,813.5 582.6,809.7 586.4,799.3 590.2,791.8 594.0,785.8 597.8,781.5 601.5,778.3 605.3,776.8 609.1,775.3 612.9,773.8 616.7,773.8 620.4,775.0 624.2,775.1 628.0,774.3 631.8,773.5 635.6,772.7 639.3,771.9 643.1,771.9 646.9,771.9 650.7,771.2 654.5,770.7 658.2,770.3 662.0,769.9 666.8,769.4" fill="none" stroke="#0000ff" stroke-width="1.3" stroke-linejoin="round"/>
<g fill="#0000ff" shape-rendering="crispEdges"><path d="M413.4 838.2L416.5 841.8L413.4 845.4L410.3 841.8Z"/><path d="M416.3 839.9L419.4 843.5L416.3 847.1L413.3 843.5Z"/><path d="M420.1 843.3L423.2 846.9L420.1 850.5L417.0 846.9Z"/><path d="M423.9 848.0L426.9 851.6L423.9 855.2L420.8 851.6Z"/><path d="M427.7 850.3L430.7 853.9L427.7 857.5L424.6 853.9Z"/><path d="M431.4 855.6L434.5 859.2L431.4 862.8L428.4 859.2Z"/><path d="M435.2 865.8L438.3 869.4L435.2 873.0L432.2 869.4Z"/><path d="M439.0 878.6L442.1 882.2L439.0 885.8L435.9 882.2Z"/><path d="M442.8 888.7L445.8 892.3L442.8 895.9L439.7 892.3Z"/><path d="M446.6 893.5L449.6 897.1L446.6 900.7L443.5 897.1Z"/><path d="M450.3 897.2L453.4 900.8L450.3 904.4L447.3 900.8Z"/><path d="M454.1 897.6L457.2 901.2L454.1 904.8L451.1 901.2Z"/><path d="M457.9 899.7L461.0 903.3L457.9 906.9L454.8 903.3Z"/><path d="M461.7 898.5L464.7 902.1L461.7 905.7L458.6 902.1Z"/><path d="M465.5 898.1L468.5 901.7L465.5 905.3L462.4 901.7Z"/><path d="M469.2 898.7L472.3 902.3L469.2 905.9L466.2 902.3Z"/><path d="M473.0 897.2L476.1 900.8L473.0 904.4L470.0 900.8Z"/><path d="M476.8 898.2L479.9 901.8L476.8 905.4L473.7 901.8Z"/><path d="M480.6 897.3L483.6 900.9L480.6 904.5L477.5 900.9Z"/><path d="M484.4 896.0L487.4 899.6L484.4 903.2L481.3 899.6Z"/><path d="M488.1 894.5L491.2 898.1L488.1 901.7L485.1 898.1Z"/><path d="M491.9 890.7L495.0 894.3L491.9 897.9L488.9 894.3Z"/><path d="M495.7 885.3L498.8 888.9L495.7 892.5L492.6 888.9Z"/><path d="M499.5 880.2L502.5 883.8L499.5 887.4L496.4 883.8Z"/><path d="M503.3 874.5L506.3 878.1L503.3 881.7L500.2 878.1Z"/><path d="M507.0 865.2L510.1 868.8L507.0 872.4L504.0 868.8Z"/><path d="M510.8 858.7L513.9 862.3L510.8 865.9L507.8 862.3Z"/><path d="M514.6 851.0L517.7 854.6L514.6 858.2L511.5 854.6Z"/><path d="M518.4 839.8L521.4 843.4L518.4 847.0L515.3 843.4Z"/><path d="M522.2 829.3L525.2 832.9L522.2 836.5L519.1 832.9Z"/><path d="M525.9 819.9L529.0 823.5L525.9 827.1L522.9 823.5Z"/><path d="M529.7 813.5L532.8 817.1L529.7 820.7L526.7 817.1Z"/><path d="M533.5 807.9L536.6 811.5L533.5 815.1L530.4 811.5Z"/><path d="M537.3 805.3L540.3 808.9L537.3 812.5L534.2 808.9Z"/><path d="M541.1 804.9L544.1 808.5L541.1 812.1L538.0 808.5Z"/><path d="M544.8 806.7L547.9 810.3L544.8 813.9L541.8 810.3Z"/><path d="M548.6 809.0L551.7 812.6L548.6 816.2L545.6 812.6Z"/><path d="M552.4 809.8L555.5 813.4L552.4 817.0L549.3 813.4Z"/><path d="M556.2 811.2L559.2 814.8L556.2 818.4L553.1 814.8Z"/><path d="M560.0 811.5L563.0 815.1L560.0 818.7L556.9 815.1Z"/><path d="M563.7 812.6L566.8 816.2L563.7 819.8L560.7 816.2Z"/><path d="M567.5 813.7L570.6 817.3L567.5 820.9L564.5 817.3Z"/><path d="M571.3 814.5L574.4 818.1L571.3 821.7L568.2 818.1Z"/><path d="M575.1 812.7L578.1 816.3L575.1 819.9L572.0 816.3Z"/><path d="M578.9 810.4L581.9 814.0L578.9 817.6L575.8 814.0Z"/><path d="M582.6 805.3L585.7 808.9L582.6 812.5L579.6 808.9Z"/><path d="M586.4 796.1L589.5 799.7L586.4 803.3L583.4 799.7Z"/><path d="M590.2 788.9L593.3 792.5L590.2 796.1L587.1 792.5Z"/><path d="M594.0 782.3L597.0 785.9L594.0 789.5L590.9 785.9Z"/><path d="M597.8 777.1L600.8 780.7L597.8 784.3L594.7 780.7Z"/><path d="M601.5 774.3L604.6 777.9L601.5 781.5L598.5 777.9Z"/><path d="M605.3 772.3L608.4 775.9L605.3 779.5L602.3 775.9Z"/><path d="M609.1 771.1L612.2 774.7L609.1 778.3L606.0 774.7Z"/><path d="M612.9 771.0L615.9 774.6L612.9 778.2L609.8 774.6Z"/><path d="M616.7 770.4L619.7 774.0L616.7 777.6L613.6 774.0Z"/><path d="M620.4 771.7L623.5 775.3L620.4 778.9L617.4 775.3Z"/><path d="M624.2 772.1L627.3 775.7L624.2 779.3L621.2 775.7Z"/><path d="M628.0 771.4L631.1 775.0L628.0 778.6L624.9 775.0Z"/><path d="M631.8 770.1L634.8 773.7L631.8 777.3L628.7 773.7Z"/><path d="M635.6 769.3L638.6 772.9L635.6 776.5L632.5 772.9Z"/><path d="M639.3 768.5L642.4 772.1L639.3 775.7L636.3 772.1Z"/><path d="M643.1 768.7L646.2 772.3L643.1 775.9L640.1 772.3Z"/><path d="M646.9 768.4L650.0 772.0L646.9 775.6L643.8 772.0Z"/><path d="M650.7 768.0L653.7 771.6L650.7 775.2L647.6 771.6Z"/><path d="M654.5 766.5L657.5 770.1L654.5 773.7L651.4 770.1Z"/><path d="M658.2 767.0L661.3 770.6L658.2 774.2L655.2 770.6Z"/><path d="M662.0 766.2L665.1 769.8L662.0 773.4L659.0 769.8Z"/><path d="M666.8 766.3L669.9 769.9L666.8 773.5L663.7 769.9Z"/></g>
<polyline points="412.5,851.7 416.3,853.6 420.1,855.7 423.9,859.0 427.7,862.8 431.4,867.8 435.2,877.9 439.0,889.0 442.8,897.4 446.6,901.8 450.3,904.5 454.1,906.2 457.9,907.6 461.7,907.7 465.5,907.7 469.2,908.2 473.0,909.0 476.8,909.0 480.6,907.5 484.4,906.0 488.1,904.5 491.9,903.0 495.7,899.6 499.5,895.3 503.3,890.4 507.0,884.8 510.8,878.4 514.6,870.9 518.4,861.6 522.2,847.2 525.9,841.0 529.7,834.6 533.5,829.6 537.3,825.8 541.1,824.6 544.8,824.6 548.6,825.7 552.4,827.1 556.2,828.3 560.0,829.5 563.7,829.7 567.5,829.3 571.3,830.6 575.1,835.7 578.9,833.6 582.6,830.8 586.4,826.5 590.2,817.8 594.0,811.6 597.8,805.4 601.5,800.1 605.3,796.0 609.1,788.7 612.9,781.1 616.7,777.3 620.4,773.5 624.2,769.7 628.0,768.0 631.8,766.5 635.6,764.5 639.3,764.4 643.1,765.1 646.9,765.1 650.7,764.3 654.5,762.5 658.2,762.4 662.0,762.5 666.8,761.5" fill="none" stroke="#00ff00" stroke-width="1.3" stroke-linejoin="round"/>
<g fill="#00ff00" shape-rendering="crispEdges"><path d="M412.5 854.4L415.9 848.4L409.1 848.4Z"/><path d="M416.3 856.4L419.7 850.5L412.9 850.5Z"/><path d="M420.1 858.3L423.5 852.3L416.7 852.3Z"/><path d="M423.9 862.9L427.3 857.0L420.5 857.0Z"/><path d="M427.7 867.0L431.1 861.0L424.3 861.0Z"/><path d="M431.4 871.5L434.8 865.6L428.0 865.6Z"/><path d="M435.2 881.0L438.6 875.1L431.8 875.1Z"/><path d="M439.0 893.0L442.4 887.0L435.6 887.0Z"/><path d="M442.8 901.3L446.2 895.4L439.4 895.4Z"/><path d="M446.6 905.3L450.0 899.3L443.2 899.3Z"/><path d="M450.3 907.5L453.7 901.6L446.9 901.6Z"/><path d="M454.1 909.3L457.5 903.3L450.7 903.3Z"/><path d="M457.9 910.9L461.3 904.9L454.5 904.9Z"/><path d="M461.7 910.8L465.1 904.8L458.3 904.8Z"/><path d="M465.5 911.0L468.9 905.0L462.1 905.0Z"/><path d="M469.2 911.9L472.6 905.9L465.8 905.9Z"/><path d="M473.0 913.2L476.4 907.2L469.6 907.2Z"/><path d="M476.8 911.6L480.2 905.7L473.4 905.7Z"/><path d="M480.6 911.0L484.0 905.1L477.2 905.1Z"/><path d="M484.4 908.5L487.8 902.6L481.0 902.6Z"/><path d="M488.1 907.2L491.5 901.2L484.7 901.2Z"/><path d="M491.9 906.9L495.3 901.0L488.5 901.0Z"/><path d="M495.7 903.1L499.1 897.2L492.3 897.2Z"/><path d="M499.5 899.5L502.9 893.5L496.1 893.5Z"/><path d="M503.3 893.7L506.7 887.8L499.9 887.8Z"/><path d="M507.0 887.4L510.4 881.4L503.6 881.4Z"/><path d="M510.8 881.6L514.2 875.6L507.4 875.6Z"/><path d="M514.6 874.5L518.0 868.5L511.2 868.5Z"/><path d="M518.4 865.8L521.8 859.8L515.0 859.8Z"/><path d="M522.2 851.5L525.6 845.5L518.8 845.5Z"/><path d="M525.9 844.3L529.3 838.4L522.5 838.4Z"/><path d="M529.7 837.9L533.1 831.9L526.3 831.9Z"/><path d="M533.5 832.3L536.9 826.3L530.1 826.3Z"/><path d="M537.3 829.5L540.7 823.5L533.9 823.5Z"/><path d="M541.1 827.5L544.5 821.5L537.7 821.5Z"/><path d="M544.8 827.4L548.2 821.4L541.4 821.4Z"/><path d="M548.6 828.2L552.0 822.3L545.2 822.3Z"/><path d="M552.4 829.6L555.8 823.7L549.0 823.7Z"/><path d="M556.2 832.0L559.6 826.1L552.8 826.1Z"/><path d="M560.0 832.2L563.4 826.3L556.6 826.3Z"/><path d="M563.7 833.9L567.1 827.9L560.3 827.9Z"/><path d="M567.5 831.9L570.9 826.0L564.1 826.0Z"/><path d="M571.3 834.7L574.7 828.7L567.9 828.7Z"/><path d="M575.1 838.4L578.5 832.5L571.7 832.5Z"/><path d="M578.9 836.2L582.3 830.2L575.5 830.2Z"/><path d="M582.6 834.6L586.0 828.6L579.2 828.6Z"/><path d="M586.4 829.5L589.8 823.5L583.0 823.5Z"/><path d="M590.2 821.6L593.6 815.7L586.8 815.7Z"/><path d="M594.0 814.5L597.4 808.5L590.6 808.5Z"/><path d="M597.8 807.9L601.2 802.0L594.4 802.0Z"/><path d="M601.5 803.9L604.9 798.0L598.1 798.0Z"/><path d="M605.3 799.8L608.7 793.9L601.9 793.9Z"/><path d="M609.1 792.7L612.5 786.8L605.7 786.8Z"/><path d="M612.9 784.9L616.3 779.0L609.5 779.0Z"/><path d="M616.7 780.0L620.1 774.0L613.3 774.0Z"/><path d="M620.4 777.2L623.8 771.2L617.0 771.2Z"/><path d="M624.2 773.5L627.6 767.5L620.8 767.5Z"/><path d="M628.0 771.4L631.4 765.4L624.6 765.4Z"/><path d="M631.8 770.6L635.2 764.7L628.4 764.7Z"/><path d="M635.6 767.5L639.0 761.5L632.2 761.5Z"/><path d="M639.3 768.6L642.7 762.7L635.9 762.7Z"/><path d="M643.1 768.9L646.5 762.9L639.7 762.9Z"/><path d="M646.9 767.6L650.3 761.7L643.5 761.7Z"/><path d="M650.7 766.8L654.1 760.9L647.3 760.9Z"/><path d="M654.5 766.1L657.9 760.2L651.1 760.2Z"/><path d="M658.2 766.4L661.6 760.4L654.8 760.4Z"/><path d="M662.0 765.2L665.4 759.2L658.6 759.2Z"/><path d="M666.8 764.6L670.2 758.6L663.4 758.6Z"/></g>
</g>
<path d="M401.5 692.5H684.5V937.5" fill="none" stroke="#000" stroke-width="1.2"/>
<path d="M401.5 692.0V937.5H684.5" fill="none" stroke="#000" stroke-width="1.5"/>
<path d="M398.0 937.5H401.5 M399.0 906.5H401.5 M398.0 876.5H401.5 M399.0 845.5H401.5 M398.0 814.5H401.5 M399.0 784.5H401.5 M398.0 753.5H401.5 M399.0 722.5H401.5 M398.0 692.5H401.5 M401.5 937.5V941.0 M420.5 937.5V940.0 M439.5 937.5V941.0 M457.5 937.5V940.0 M476.5 937.5V941.0 M495.5 937.5V940.0 M514.5 937.5V941.0 M533.5 937.5V940.0 M552.5 937.5V941.0 M571.5 937.5V940.0 M590.5 937.5V941.0 M609.5 937.5V940.0 M628.5 937.5V941.0 M646.5 937.5V940.0 M665.5 937.5V941.0" stroke="#000" stroke-width="1.1" fill="none"/>
<text x="358.5" y="940.7" textLength="36.8" lengthAdjust="spacingAndGlyphs" class="tl">0.0E+0</text>
<text x="358.5" y="879.3" textLength="36.8" lengthAdjust="spacingAndGlyphs" class="tl">2.0E-2</text>
<text x="358.5" y="818.0" textLength="36.8" lengthAdjust="spacingAndGlyphs" class="tl">4.0E-2</text>
<text x="358.5" y="756.6" textLength="36.8" lengthAdjust="spacingAndGlyphs" class="tl">6.0E-2</text>
<text x="358.5" y="695.3" textLength="36.8" lengthAdjust="spacingAndGlyphs" class="tl">8.0E-2</text>
<text x="401.2" y="955.2" text-anchor="middle" class="tl" textLength="5.9" lengthAdjust="spacingAndGlyphs">0</text>
<text x="439.0" y="955.2" text-anchor="middle" class="tl" textLength="17.7" lengthAdjust="spacingAndGlyphs">100</text>
<text x="476.8" y="955.2" text-anchor="middle" class="tl" textLength="17.7" lengthAdjust="spacingAndGlyphs">200</text>
<text x="514.6" y="955.2" text-anchor="middle" class="tl" textLength="17.7" lengthAdjust="spacingAndGlyphs">300</text>
<text x="552.4" y="955.2" text-anchor="middle" class="tl" textLength="17.7" lengthAdjust="spacingAndGlyphs">400</text>
<text x="590.2" y="955.2" text-anchor="middle" class="tl" textLength="17.7" lengthAdjust="spacingAndGlyphs">500</text>
<text x="628.0" y="955.2" text-anchor="middle" class="tl" textLength="17.7" lengthAdjust="spacingAndGlyphs">600</text>
<text x="665.8" y="955.2" text-anchor="middle" class="tl" textLength="17.7" lengthAdjust="spacingAndGlyphs">700</text>
<text x="519.2" y="968.5" textLength="47.4" lengthAdjust="spacingAndGlyphs" class="xl" style="font-size:11.5px;font-weight:bold">T emp(°C)</text>
<text transform="translate(355.9,815.0) rotate(-90)" text-anchor="middle" class="yl" textLength="29.0" lengthAdjust="spacingAndGlyphs">tanδ</text>
<rect x="402.5" y="694.5" width="89.0" height="66.0" fill="#fff" stroke="#000" stroke-width="1.3"/>
<path d="M405.0 703.5H430.0" stroke="#000000" stroke-width="1.3"/>
<g fill="#000000"><circle cx="418.0" cy="703.3" r="2.80"/></g>
<text x="437.1" y="707.5" textLength="12.9" lengthAdjust="spacingAndGlyphs" class="lg" style="font-size:13.75px">50</text>
<text x="457.2" y="707.5" textLength="5.6" lengthAdjust="spacingAndGlyphs" class="lg" style="font-size:13.75px">k</text>
<text x="469.3" y="707.5" textLength="13.7" lengthAdjust="spacingAndGlyphs" class="lg" style="font-size:13.75px">Hz</text>
<path d="M405.0 718.5H430.0" stroke="#ff0000" stroke-width="1.3"/>
<g fill="#ff0000"><path d="M418.0 715.5L421.4 721.4L414.6 721.4Z"/></g>
<text x="437.1" y="723.1" textLength="19.4" lengthAdjust="spacingAndGlyphs" class="lg" style="font-size:13.75px">100</text>
<text x="463.7" y="723.1" textLength="6.6" lengthAdjust="spacingAndGlyphs" class="lg" style="font-size:13.75px">k</text>
<text x="476.8" y="723.1" textLength="13.8" lengthAdjust="spacingAndGlyphs" class="lg" style="font-size:13.75px">Hz</text>
<path d="M405.0 734.5H430.0" stroke="#0000ff" stroke-width="1.3"/>
<g fill="#0000ff"><path d="M418.0 731.0L421.1 734.6L418.0 738.2L414.9 734.6Z"/></g>
<text x="437.1" y="738.9" textLength="19.4" lengthAdjust="spacingAndGlyphs" class="lg" style="font-size:13.75px">500</text>
<text x="463.7" y="738.9" textLength="6.6" lengthAdjust="spacingAndGlyphs" class="lg" style="font-size:13.75px">k</text>
<text x="476.8" y="738.9" textLength="13.8" lengthAdjust="spacingAndGlyphs" class="lg" style="font-size:13.75px">Hz</text>
<path d="M405.0 750.5H430.0" stroke="#00ff00" stroke-width="1.3"/>
<g fill="#00ff00"><path d="M418.0 753.6L421.4 747.7L414.6 747.7Z"/></g>
<text x="437.1" y="754.5" textLength="5.7" lengthAdjust="spacingAndGlyphs" class="lg" style="font-size:13.75px">1</text>
<text x="449.3" y="754.5" textLength="7.3" lengthAdjust="spacingAndGlyphs" class="lg" style="font-size:13.75px">M</text>
<text x="463.9" y="754.5" textLength="11.4" lengthAdjust="spacingAndGlyphs" class="lg" style="font-size:13.75px">Hz</text>
<text x="478.1" y="1020.5" textLength="122.2" lengthAdjust="spacingAndGlyphs" class="cap">(6) Rock type R6</text>
</svg>
</body></html>
